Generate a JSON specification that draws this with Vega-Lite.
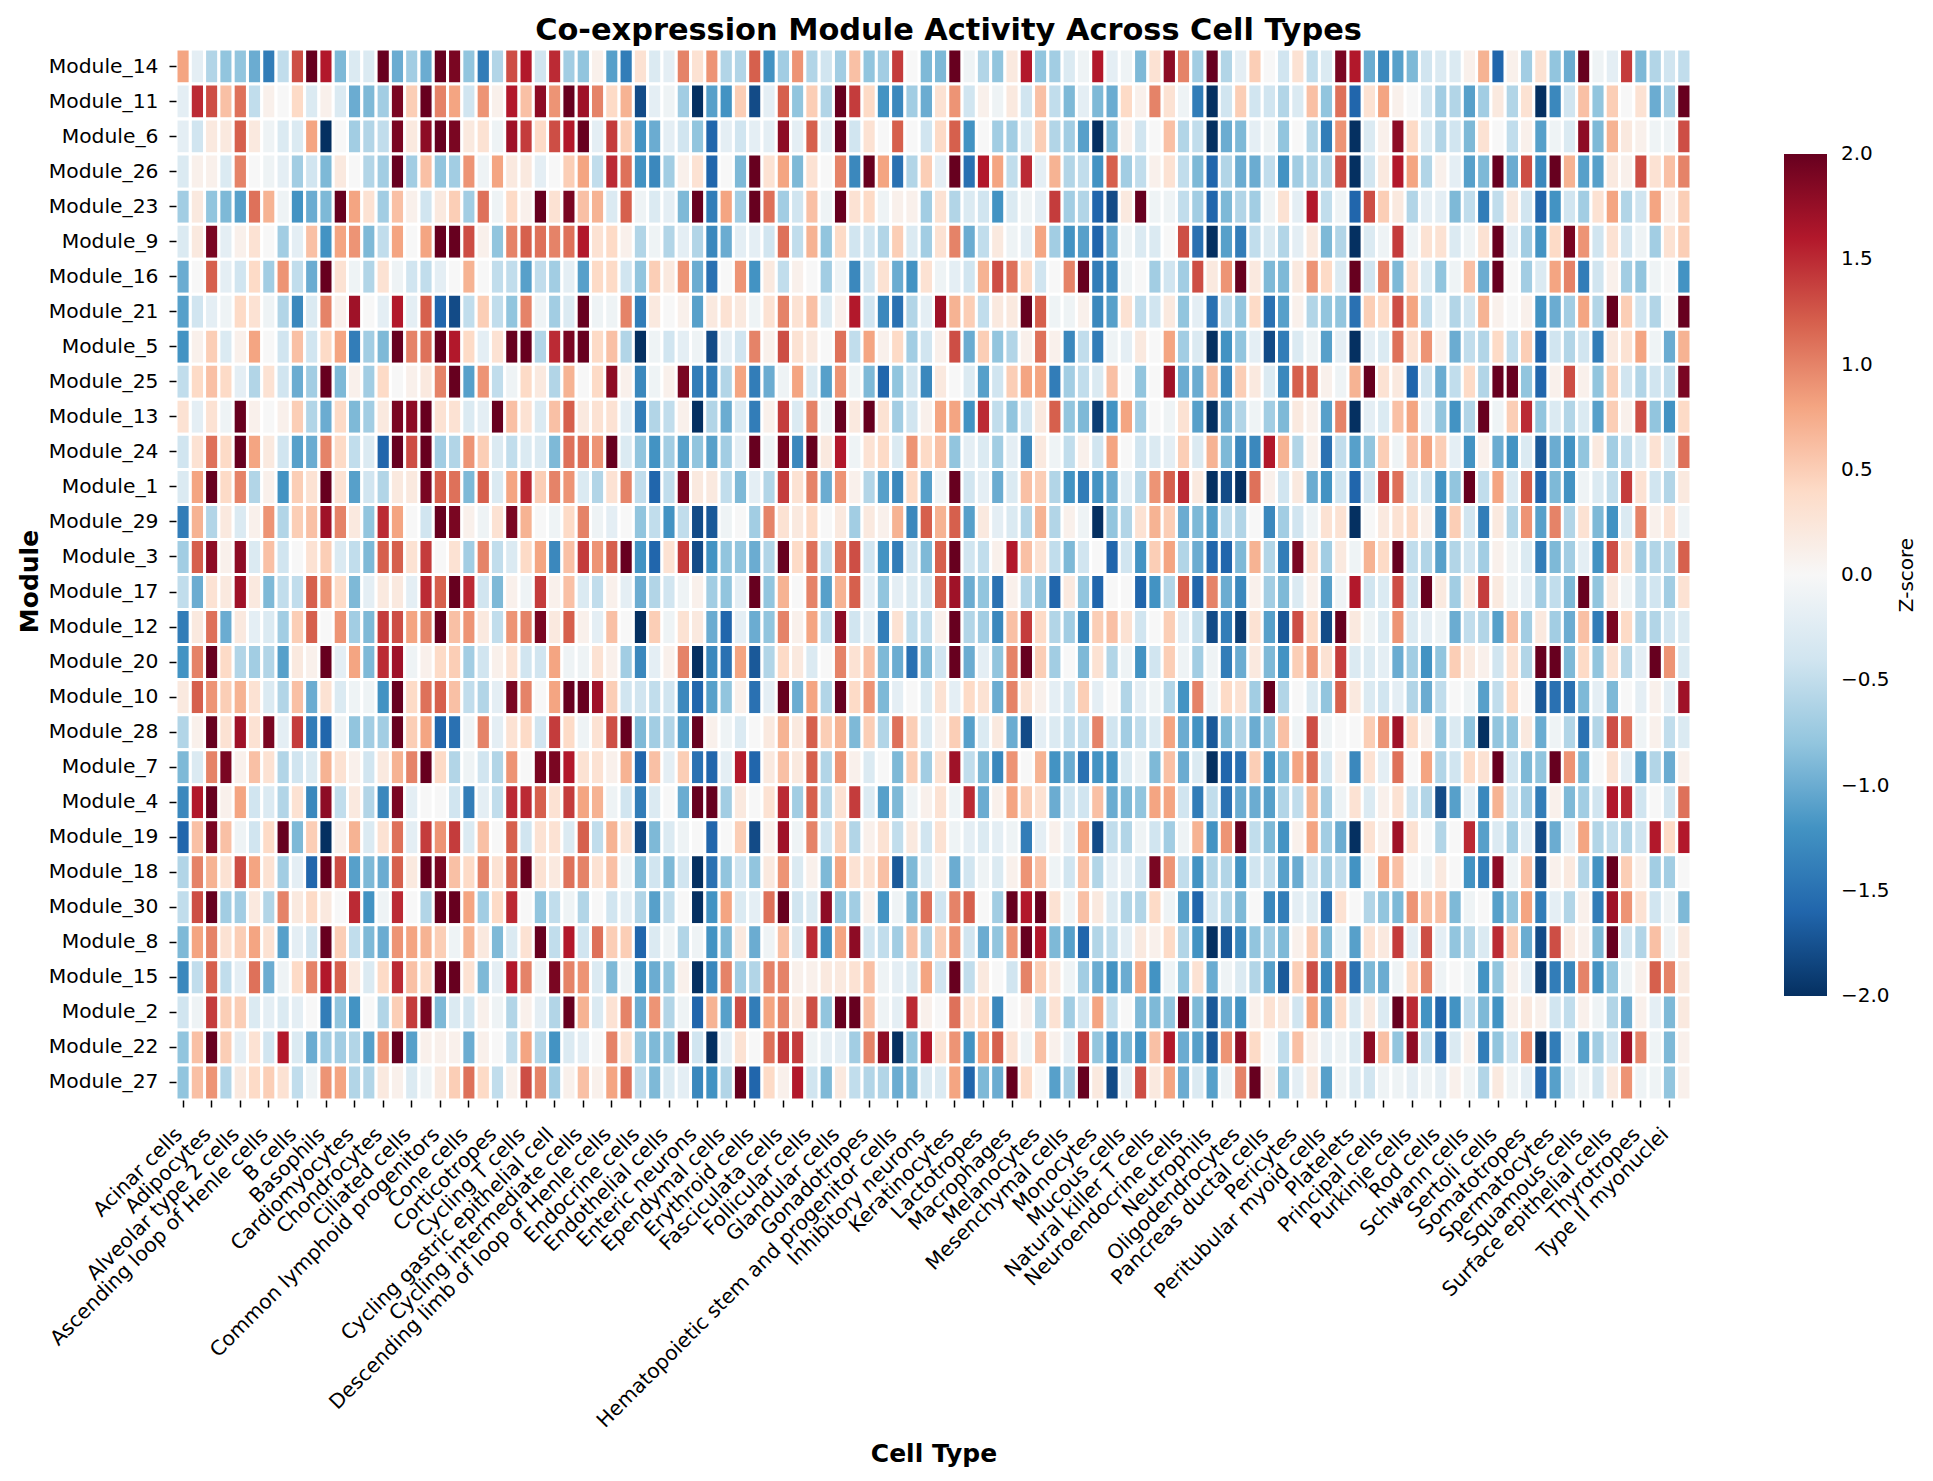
{"$schema":"https://vega.github.io/schema/vega-lite/v6.json","autosize":{"type":"none"},"padding":{"left":176,"top":49,"right":242,"bottom":381},"width":1515,"height":1051,"background":"white","title":{"text":"Co-expression Module Activity Across Cell Types","fontSize":30.4,"fontWeight":"bold","font":"DejaVu Sans","color":"black","offset":1,"dx":15,"anchor":"middle"},"config":{"font":"DejaVu Sans","view":{"stroke":null}},"data":{"values":[
{"m":14,"c":0,"z":0.8},{"m":14,"c":1,"z":-0.2},{"m":14,"c":2,"z":-0.6},{"m":14,"c":3,"z":-0.8},{"m":14,"c":4,"z":-0.8},{"m":14,"c":5,"z":-1},{"m":14,"c":6,"z":-1.4},{"m":14,"c":7,"z":-0.5},{"m":14,"c":8,"z":1.3},{"m":14,"c":9,"z":2},{"m":14,"c":10,"z":1.6},{"m":14,"c":11,"z":-0.9},{"m":14,"c":12,"z":-0.3},{"m":14,"c":13,"z":-0.3},{"m":14,"c":14,"z":2},{"m":14,"c":15,"z":-1},{"m":14,"c":16,"z":-0.7},{"m":14,"c":17,"z":-1},{"m":14,"c":18,"z":2},{"m":14,"c":19,"z":1.9},{"m":14,"c":20,"z":-0.8},{"m":14,"c":21,"z":-1.4},{"m":14,"c":22,"z":-0.6},{"m":14,"c":23,"z":1.3},{"m":14,"c":24,"z":1.6},{"m":14,"c":25,"z":-0.4},{"m":14,"c":26,"z":1.5},{"m":14,"c":27,"z":-0.7},{"m":14,"c":28,"z":-0.8},{"m":14,"c":29,"z":0.1},{"m":14,"c":30,"z":-1.1},{"m":14,"c":31,"z":-1.4},{"m":14,"c":32,"z":0.3},{"m":14,"c":33,"z":-0.3},{"m":14,"c":34,"z":-0.2},{"m":14,"c":35,"z":1},{"m":14,"c":36,"z":0.3},{"m":14,"c":37,"z":0.9},{"m":14,"c":38,"z":-0.6},{"m":14,"c":39,"z":-0.6},{"m":14,"c":40,"z":1.2},{"m":14,"c":41,"z":-1.2},{"m":14,"c":42,"z":-0.7},{"m":14,"c":43,"z":0.9},{"m":14,"c":44,"z":-0.6},{"m":14,"c":45,"z":-0.4},{"m":14,"c":46,"z":-0.7},{"m":14,"c":47,"z":0.6},{"m":14,"c":48,"z":-0.8},{"m":14,"c":49,"z":-0.7},{"m":14,"c":50,"z":1.4},{"m":14,"c":51,"z":0},{"m":14,"c":52,"z":-0.9},{"m":14,"c":53,"z":-0.9},{"m":14,"c":54,"z":2},{"m":14,"c":55,"z":-0.1},{"m":14,"c":56,"z":-0.6},{"m":14,"c":57,"z":-0.8},{"m":14,"c":58,"z":0.2},{"m":14,"c":59,"z":1.6},{"m":14,"c":60,"z":-0.8},{"m":14,"c":61,"z":-0.7},{"m":14,"c":62,"z":-0.3},{"m":14,"c":63,"z":-0.1},{"m":14,"c":64,"z":1.6},{"m":14,"c":65,"z":-0.2},{"m":14,"c":66,"z":-0.1},{"m":14,"c":67,"z":-0.9},{"m":14,"c":68,"z":0.3},{"m":14,"c":69,"z":1.8},{"m":14,"c":70,"z":1},{"m":14,"c":71,"z":-0.7},{"m":14,"c":72,"z":2},{"m":14,"c":73,"z":-0.6},{"m":14,"c":74,"z":-0.2},{"m":14,"c":75,"z":0.5},{"m":14,"c":76,"z":0},{"m":14,"c":77,"z":-0.4},{"m":14,"c":78,"z":0.3},{"m":14,"c":79,"z":-0.5},{"m":14,"c":80,"z":-0.3},{"m":14,"c":81,"z":1.9},{"m":14,"c":82,"z":1.6},{"m":14,"c":83,"z":-1},{"m":14,"c":84,"z":-1.3},{"m":14,"c":85,"z":-1.1},{"m":14,"c":86,"z":-0.9},{"m":14,"c":87,"z":-0.4},{"m":14,"c":88,"z":-0.3},{"m":14,"c":89,"z":-0.3},{"m":14,"c":90,"z":0.1},{"m":14,"c":91,"z":0.7},{"m":14,"c":92,"z":-1.6},{"m":14,"c":93,"z":0.1},{"m":14,"c":94,"z":-0.7},{"m":14,"c":95,"z":0.3},{"m":14,"c":96,"z":-0.8},{"m":14,"c":97,"z":-1},{"m":14,"c":98,"z":2},{"m":14,"c":99,"z":-0.1},{"m":14,"c":100,"z":-0.2},{"m":14,"c":101,"z":1.4},{"m":14,"c":102,"z":-0.9},{"m":14,"c":103,"z":-0.6},{"m":14,"c":104,"z":-0.4},{"m":14,"c":105,"z":-0.5},
{"m":11,"c":0,"z":-0.2},{"m":11,"c":1,"z":1.5},{"m":11,"c":2,"z":1.3},{"m":11,"c":3,"z":0.6},{"m":11,"c":4,"z":1.1},{"m":11,"c":5,"z":-0.5},{"m":11,"c":6,"z":0.1},{"m":11,"c":7,"z":0},{"m":11,"c":8,"z":0.4},{"m":11,"c":9,"z":-0.3},{"m":11,"c":10,"z":0.1},{"m":11,"c":11,"z":-0.3},{"m":11,"c":12,"z":-1},{"m":11,"c":13,"z":-0.9},{"m":11,"c":14,"z":-0.7},{"m":11,"c":15,"z":1.9},{"m":11,"c":16,"z":0.5},{"m":11,"c":17,"z":2},{"m":11,"c":18,"z":1},{"m":11,"c":19,"z":0.8},{"m":11,"c":20,"z":-0.4},{"m":11,"c":21,"z":0.9},{"m":11,"c":22,"z":0.1},{"m":11,"c":23,"z":1.6},{"m":11,"c":24,"z":0.6},{"m":11,"c":25,"z":1.8},{"m":11,"c":26,"z":0.9},{"m":11,"c":27,"z":2},{"m":11,"c":28,"z":1.7},{"m":11,"c":29,"z":1},{"m":11,"c":30,"z":0.4},{"m":11,"c":31,"z":0.7},{"m":11,"c":32,"z":-1.8},{"m":11,"c":33,"z":-0.2},{"m":11,"c":34,"z":-0.1},{"m":11,"c":35,"z":-0.7},{"m":11,"c":36,"z":-2},{"m":11,"c":37,"z":-1.1},{"m":11,"c":38,"z":-1.2},{"m":11,"c":39,"z":0.5},{"m":11,"c":40,"z":-1.8},{"m":11,"c":41,"z":-0.2},{"m":11,"c":42,"z":1.2},{"m":11,"c":43,"z":-0.8},{"m":11,"c":44,"z":0.5},{"m":11,"c":45,"z":-0.6},{"m":11,"c":46,"z":2},{"m":11,"c":47,"z":1.4},{"m":11,"c":48,"z":0.4},{"m":11,"c":49,"z":-1.2},{"m":11,"c":50,"z":-1.3},{"m":11,"c":51,"z":-0.7},{"m":11,"c":52,"z":-1},{"m":11,"c":53,"z":0.3},{"m":11,"c":54,"z":0.9},{"m":11,"c":55,"z":-0.4},{"m":11,"c":56,"z":0.1},{"m":11,"c":57,"z":-0.1},{"m":11,"c":58,"z":0.2},{"m":11,"c":59,"z":-0.4},{"m":11,"c":60,"z":0.6},{"m":11,"c":61,"z":-0.5},{"m":11,"c":62,"z":-0.9},{"m":11,"c":63,"z":-0.2},{"m":11,"c":64,"z":-0.9},{"m":11,"c":65,"z":-1},{"m":11,"c":66,"z":0.4},{"m":11,"c":67,"z":0.1},{"m":11,"c":68,"z":1},{"m":11,"c":69,"z":0.3},{"m":11,"c":70,"z":-0.1},{"m":11,"c":71,"z":-1.4},{"m":11,"c":72,"z":-2},{"m":11,"c":73,"z":-0.4},{"m":11,"c":74,"z":0.5},{"m":11,"c":75,"z":-0.4},{"m":11,"c":76,"z":-0.4},{"m":11,"c":77,"z":-0.6},{"m":11,"c":78,"z":-0.3},{"m":11,"c":79,"z":0.6},{"m":11,"c":80,"z":-0.8},{"m":11,"c":81,"z":1.1},{"m":11,"c":82,"z":-1.6},{"m":11,"c":83,"z":0.3},{"m":11,"c":84,"z":0.8},{"m":11,"c":85,"z":0.1},{"m":11,"c":86,"z":0},{"m":11,"c":87,"z":-0.4},{"m":11,"c":88,"z":-0.7},{"m":11,"c":89,"z":-0.6},{"m":11,"c":90,"z":-1.1},{"m":11,"c":91,"z":-0.7},{"m":11,"c":92,"z":0.2},{"m":11,"c":93,"z":-0.6},{"m":11,"c":94,"z":0.3},{"m":11,"c":95,"z":-2},{"m":11,"c":96,"z":-1.3},{"m":11,"c":97,"z":-0.4},{"m":11,"c":98,"z":0.6},{"m":11,"c":99,"z":-0.8},{"m":11,"c":100,"z":0.5},{"m":11,"c":101,"z":0},{"m":11,"c":102,"z":0.3},{"m":11,"c":103,"z":-1},{"m":11,"c":104,"z":-0.7},{"m":11,"c":105,"z":2},
{"m":6,"c":0,"z":-0.2},{"m":6,"c":1,"z":-0.4},{"m":6,"c":2,"z":0.2},{"m":6,"c":3,"z":0.2},{"m":6,"c":4,"z":1.2},{"m":6,"c":5,"z":0.2},{"m":6,"c":6,"z":-0.1},{"m":6,"c":7,"z":-0.3},{"m":6,"c":8,"z":-0.3},{"m":6,"c":9,"z":0.8},{"m":6,"c":10,"z":-2},{"m":6,"c":11,"z":0},{"m":6,"c":12,"z":-0.7},{"m":6,"c":13,"z":-0.6},{"m":6,"c":14,"z":-0.5},{"m":6,"c":15,"z":1.9},{"m":6,"c":16,"z":0.2},{"m":6,"c":17,"z":1.8},{"m":6,"c":18,"z":2},{"m":6,"c":19,"z":1.9},{"m":6,"c":20,"z":0.2},{"m":6,"c":21,"z":0.3},{"m":6,"c":22,"z":-0.1},{"m":6,"c":23,"z":1.7},{"m":6,"c":24,"z":1.4},{"m":6,"c":25,"z":0.4},{"m":6,"c":26,"z":1.3},{"m":6,"c":27,"z":1.6},{"m":6,"c":28,"z":2},{"m":6,"c":29,"z":-0.2},{"m":6,"c":30,"z":1.4},{"m":6,"c":31,"z":0.5},{"m":6,"c":32,"z":-1.2},{"m":6,"c":33,"z":-1},{"m":6,"c":34,"z":-0.2},{"m":6,"c":35,"z":-0.4},{"m":6,"c":36,"z":-0.8},{"m":6,"c":37,"z":-1.6},{"m":6,"c":38,"z":-0.2},{"m":6,"c":39,"z":-0.4},{"m":6,"c":40,"z":-0.2},{"m":6,"c":41,"z":-0.2},{"m":6,"c":42,"z":1.8},{"m":6,"c":43,"z":-0.2},{"m":6,"c":44,"z":1.2},{"m":6,"c":45,"z":-0.2},{"m":6,"c":46,"z":2},{"m":6,"c":47,"z":-0.4},{"m":6,"c":48,"z":0.3},{"m":6,"c":49,"z":0},{"m":6,"c":50,"z":1.2},{"m":6,"c":51,"z":0},{"m":6,"c":52,"z":-0.4},{"m":6,"c":53,"z":0.4},{"m":6,"c":54,"z":1.2},{"m":6,"c":55,"z":-1.2},{"m":6,"c":56,"z":0},{"m":6,"c":57,"z":-0.7},{"m":6,"c":58,"z":-0.7},{"m":6,"c":59,"z":-0.3},{"m":6,"c":60,"z":0.5},{"m":6,"c":61,"z":-0.6},{"m":6,"c":62,"z":-0.7},{"m":6,"c":63,"z":-1.1},{"m":6,"c":64,"z":-2},{"m":6,"c":65,"z":-0.9},{"m":6,"c":66,"z":0.1},{"m":6,"c":67,"z":-0.4},{"m":6,"c":68,"z":0},{"m":6,"c":69,"z":0.6},{"m":6,"c":70,"z":-0.6},{"m":6,"c":71,"z":-0.5},{"m":6,"c":72,"z":-2},{"m":6,"c":73,"z":-1},{"m":6,"c":74,"z":-0.9},{"m":6,"c":75,"z":-0.2},{"m":6,"c":76,"z":-0.1},{"m":6,"c":77,"z":-0.8},{"m":6,"c":78,"z":0},{"m":6,"c":79,"z":-0.6},{"m":6,"c":80,"z":-1.4},{"m":6,"c":81,"z":0.9},{"m":6,"c":82,"z":-2},{"m":6,"c":83,"z":-0.3},{"m":6,"c":84,"z":0.1},{"m":6,"c":85,"z":1.8},{"m":6,"c":86,"z":0.4},{"m":6,"c":87,"z":-0.3},{"m":6,"c":88,"z":-0.6},{"m":6,"c":89,"z":-0.4},{"m":6,"c":90,"z":-0.9},{"m":6,"c":91,"z":0.3},{"m":6,"c":92,"z":0},{"m":6,"c":93,"z":-0.5},{"m":6,"c":94,"z":0.1},{"m":6,"c":95,"z":-1.1},{"m":6,"c":96,"z":-0.1},{"m":6,"c":97,"z":-0.3},{"m":6,"c":98,"z":1.8},{"m":6,"c":99,"z":-0.9},{"m":6,"c":100,"z":0.7},{"m":6,"c":101,"z":0.2},{"m":6,"c":102,"z":0.1},{"m":6,"c":103,"z":-0.1},{"m":6,"c":104,"z":-0.1},{"m":6,"c":105,"z":1.3},
{"m":26,"c":0,"z":-0.3},{"m":26,"c":1,"z":0.1},{"m":26,"c":2,"z":0.1},{"m":26,"c":3,"z":-0.3},{"m":26,"c":4,"z":1},{"m":26,"c":5,"z":0},{"m":26,"c":6,"z":-0.1},{"m":26,"c":7,"z":-0.2},{"m":26,"c":8,"z":-0.7},{"m":26,"c":9,"z":-0.4},{"m":26,"c":10,"z":-0.9},{"m":26,"c":11,"z":0.2},{"m":26,"c":12,"z":0},{"m":26,"c":13,"z":-0.6},{"m":26,"c":14,"z":-0.7},{"m":26,"c":15,"z":2},{"m":26,"c":16,"z":-0.7},{"m":26,"c":17,"z":0.6},{"m":26,"c":18,"z":-0.8},{"m":26,"c":19,"z":-0.7},{"m":26,"c":20,"z":0.9},{"m":26,"c":21,"z":-0.1},{"m":26,"c":22,"z":0.8},{"m":26,"c":23,"z":0.2},{"m":26,"c":24,"z":0.2},{"m":26,"c":25,"z":-0.2},{"m":26,"c":26,"z":0},{"m":26,"c":27,"z":0.5},{"m":26,"c":28,"z":0.8},{"m":26,"c":29,"z":-0.5},{"m":26,"c":30,"z":1.5},{"m":26,"c":31,"z":1.1},{"m":26,"c":32,"z":-1.2},{"m":26,"c":33,"z":-1.3},{"m":26,"c":34,"z":-0.7},{"m":26,"c":35,"z":0.1},{"m":26,"c":36,"z":0.3},{"m":26,"c":37,"z":-1.6},{"m":26,"c":38,"z":0},{"m":26,"c":39,"z":-0.9},{"m":26,"c":40,"z":2},{"m":26,"c":41,"z":0.3},{"m":26,"c":42,"z":0.8},{"m":26,"c":43,"z":-0.9},{"m":26,"c":44,"z":0.3},{"m":26,"c":45,"z":0},{"m":26,"c":46,"z":1},{"m":26,"c":47,"z":-1.3},{"m":26,"c":48,"z":2},{"m":26,"c":49,"z":0.8},{"m":26,"c":50,"z":-1.5},{"m":26,"c":51,"z":-0.6},{"m":26,"c":52,"z":0.5},{"m":26,"c":53,"z":-0.2},{"m":26,"c":54,"z":2},{"m":26,"c":55,"z":-1.5},{"m":26,"c":56,"z":1.6},{"m":26,"c":57,"z":0.8},{"m":26,"c":58,"z":-0.5},{"m":26,"c":59,"z":1.5},{"m":26,"c":60,"z":-0.2},{"m":26,"c":61,"z":0.7},{"m":26,"c":62,"z":-0.6},{"m":26,"c":63,"z":-0.5},{"m":26,"c":64,"z":-1.2},{"m":26,"c":65,"z":1.2},{"m":26,"c":66,"z":-0.7},{"m":26,"c":67,"z":-0.5},{"m":26,"c":68,"z":0.1},{"m":26,"c":69,"z":0.3},{"m":26,"c":70,"z":-0.5},{"m":26,"c":71,"z":-0.9},{"m":26,"c":72,"z":-1.6},{"m":26,"c":73,"z":-0.6},{"m":26,"c":74,"z":-1},{"m":26,"c":75,"z":-1},{"m":26,"c":76,"z":-0.5},{"m":26,"c":77,"z":-1.2},{"m":26,"c":78,"z":-0.7},{"m":26,"c":79,"z":-0.6},{"m":26,"c":80,"z":-0.6},{"m":26,"c":81,"z":1.3},{"m":26,"c":82,"z":-2},{"m":26,"c":83,"z":-0.4},{"m":26,"c":84,"z":0.2},{"m":26,"c":85,"z":1.6},{"m":26,"c":86,"z":0.8},{"m":26,"c":87,"z":-0.6},{"m":26,"c":88,"z":0.1},{"m":26,"c":89,"z":-0.2},{"m":26,"c":90,"z":-1.1},{"m":26,"c":91,"z":-0.9},{"m":26,"c":92,"z":2},{"m":26,"c":93,"z":-1},{"m":26,"c":94,"z":1.3},{"m":26,"c":95,"z":-1.3},{"m":26,"c":96,"z":2},{"m":26,"c":97,"z":0.7},{"m":26,"c":98,"z":-1.1},{"m":26,"c":99,"z":-1.1},{"m":26,"c":100,"z":0.2},{"m":26,"c":101,"z":0.1},{"m":26,"c":102,"z":1.3},{"m":26,"c":103,"z":0.3},{"m":26,"c":104,"z":0.6},{"m":26,"c":105,"z":1},
{"m":23,"c":0,"z":-0.7},{"m":23,"c":1,"z":0.2},{"m":23,"c":2,"z":-0.8},{"m":23,"c":3,"z":-0.9},{"m":23,"c":4,"z":-1.1},{"m":23,"c":5,"z":1.1},{"m":23,"c":6,"z":0.7},{"m":23,"c":7,"z":-0.1},{"m":23,"c":8,"z":-1.2},{"m":23,"c":9,"z":-1},{"m":23,"c":10,"z":-0.9},{"m":23,"c":11,"z":2},{"m":23,"c":12,"z":0.8},{"m":23,"c":13,"z":0.3},{"m":23,"c":14,"z":-0.7},{"m":23,"c":15,"z":0.6},{"m":23,"c":16,"z":0.1},{"m":23,"c":17,"z":-0.4},{"m":23,"c":18,"z":0.2},{"m":23,"c":19,"z":0.5},{"m":23,"c":20,"z":-0.7},{"m":23,"c":21,"z":1.1},{"m":23,"c":22,"z":-0.1},{"m":23,"c":23,"z":0.4},{"m":23,"c":24,"z":0.1},{"m":23,"c":25,"z":2},{"m":23,"c":26,"z":0.3},{"m":23,"c":27,"z":1.9},{"m":23,"c":28,"z":0.6},{"m":23,"c":29,"z":0.7},{"m":23,"c":30,"z":-0.3},{"m":23,"c":31,"z":1.2},{"m":23,"c":32,"z":-0.1},{"m":23,"c":33,"z":-0.3},{"m":23,"c":34,"z":-0.2},{"m":23,"c":35,"z":-0.9},{"m":23,"c":36,"z":2},{"m":23,"c":37,"z":-1.4},{"m":23,"c":38,"z":0.8},{"m":23,"c":39,"z":-0.7},{"m":23,"c":40,"z":2},{"m":23,"c":41,"z":1.1},{"m":23,"c":42,"z":-0.7},{"m":23,"c":43,"z":-0.4},{"m":23,"c":44,"z":0.6},{"m":23,"c":45,"z":-0.1},{"m":23,"c":46,"z":2},{"m":23,"c":47,"z":0.3},{"m":23,"c":48,"z":0.4},{"m":23,"c":49,"z":-0.1},{"m":23,"c":50,"z":0.1},{"m":23,"c":51,"z":0.1},{"m":23,"c":52,"z":-0.7},{"m":23,"c":53,"z":0.3},{"m":23,"c":54,"z":-0.6},{"m":23,"c":55,"z":-0.3},{"m":23,"c":56,"z":-0.4},{"m":23,"c":57,"z":-1.2},{"m":23,"c":58,"z":-0.3},{"m":23,"c":59,"z":-0.1},{"m":23,"c":60,"z":-0.2},{"m":23,"c":61,"z":1.4},{"m":23,"c":62,"z":-0.7},{"m":23,"c":63,"z":-0.6},{"m":23,"c":64,"z":-1.6},{"m":23,"c":65,"z":-1.8},{"m":23,"c":66,"z":0.2},{"m":23,"c":67,"z":2},{"m":23,"c":68,"z":-0.1},{"m":23,"c":69,"z":-0.1},{"m":23,"c":70,"z":-0.5},{"m":23,"c":71,"z":-0.7},{"m":23,"c":72,"z":-1.6},{"m":23,"c":73,"z":-0.9},{"m":23,"c":74,"z":-0.6},{"m":23,"c":75,"z":-0.7},{"m":23,"c":76,"z":-0.1},{"m":23,"c":77,"z":0.3},{"m":23,"c":78,"z":-0.2},{"m":23,"c":79,"z":1.6},{"m":23,"c":80,"z":-0.5},{"m":23,"c":81,"z":-0.1},{"m":23,"c":82,"z":-1.6},{"m":23,"c":83,"z":1.3},{"m":23,"c":84,"z":0.5},{"m":23,"c":85,"z":0.2},{"m":23,"c":86,"z":-0.6},{"m":23,"c":87,"z":-0.2},{"m":23,"c":88,"z":-0.2},{"m":23,"c":89,"z":-0.9},{"m":23,"c":90,"z":-0.5},{"m":23,"c":91,"z":-1.4},{"m":23,"c":92,"z":-0.5},{"m":23,"c":93,"z":0.2},{"m":23,"c":94,"z":-0.4},{"m":23,"c":95,"z":-1.6},{"m":23,"c":96,"z":-1.2},{"m":23,"c":97,"z":-0.4},{"m":23,"c":98,"z":-0.7},{"m":23,"c":99,"z":0.3},{"m":23,"c":100,"z":0.8},{"m":23,"c":101,"z":-0.6},{"m":23,"c":102,"z":-0.4},{"m":23,"c":103,"z":0.8},{"m":23,"c":104,"z":0.1},{"m":23,"c":105,"z":0.5},
{"m":9,"c":0,"z":-0.3},{"m":9,"c":1,"z":0.2},{"m":9,"c":2,"z":1.9},{"m":9,"c":3,"z":-0.2},{"m":9,"c":4,"z":0.1},{"m":9,"c":5,"z":0.3},{"m":9,"c":6,"z":0},{"m":9,"c":7,"z":-0.7},{"m":9,"c":8,"z":-0.2},{"m":9,"c":9,"z":0.6},{"m":9,"c":10,"z":-1.2},{"m":9,"c":11,"z":0.8},{"m":9,"c":12,"z":0.9},{"m":9,"c":13,"z":-0.9},{"m":9,"c":14,"z":-0.5},{"m":9,"c":15,"z":0.8},{"m":9,"c":16,"z":0},{"m":9,"c":17,"z":0.8},{"m":9,"c":18,"z":2},{"m":9,"c":19,"z":2},{"m":9,"c":20,"z":1.3},{"m":9,"c":21,"z":0.1},{"m":9,"c":22,"z":-0.8},{"m":9,"c":23,"z":1},{"m":9,"c":24,"z":1.2},{"m":9,"c":25,"z":1.1},{"m":9,"c":26,"z":1},{"m":9,"c":27,"z":1.1},{"m":9,"c":28,"z":1.6},{"m":9,"c":29,"z":0.3},{"m":9,"c":30,"z":0.4},{"m":9,"c":31,"z":0.1},{"m":9,"c":32,"z":-0.6},{"m":9,"c":33,"z":-0.1},{"m":9,"c":34,"z":-0.6},{"m":9,"c":35,"z":-0.2},{"m":9,"c":36,"z":-0.6},{"m":9,"c":37,"z":-1.3},{"m":9,"c":38,"z":-1},{"m":9,"c":39,"z":-0.2},{"m":9,"c":40,"z":-0.2},{"m":9,"c":41,"z":-0.4},{"m":9,"c":42,"z":1.1},{"m":9,"c":43,"z":-0.5},{"m":9,"c":44,"z":0.7},{"m":9,"c":45,"z":-0.8},{"m":9,"c":46,"z":0.4},{"m":9,"c":47,"z":-0.4},{"m":9,"c":48,"z":-0.4},{"m":9,"c":49,"z":-0.6},{"m":9,"c":50,"z":0.5},{"m":9,"c":51,"z":-0.3},{"m":9,"c":52,"z":-0.7},{"m":9,"c":53,"z":0.3},{"m":9,"c":54,"z":1},{"m":9,"c":55,"z":-1},{"m":9,"c":56,"z":-0.5},{"m":9,"c":57,"z":0.2},{"m":9,"c":58,"z":-0.1},{"m":9,"c":59,"z":-0.2},{"m":9,"c":60,"z":0.8},{"m":9,"c":61,"z":-0.7},{"m":9,"c":62,"z":-1.2},{"m":9,"c":63,"z":-1.1},{"m":9,"c":64,"z":-1.6},{"m":9,"c":65,"z":-1},{"m":9,"c":66,"z":-0.1},{"m":9,"c":67,"z":-0.3},{"m":9,"c":68,"z":-0.3},{"m":9,"c":69,"z":0},{"m":9,"c":70,"z":1.3},{"m":9,"c":71,"z":-1.5},{"m":9,"c":72,"z":-2},{"m":9,"c":73,"z":-1.1},{"m":9,"c":74,"z":-1.4},{"m":9,"c":75,"z":-0.5},{"m":9,"c":76,"z":-0.3},{"m":9,"c":77,"z":-0.6},{"m":9,"c":78,"z":-0.2},{"m":9,"c":79,"z":0.2},{"m":9,"c":80,"z":-0.9},{"m":9,"c":81,"z":-0.6},{"m":9,"c":82,"z":-2},{"m":9,"c":83,"z":-0.3},{"m":9,"c":84,"z":-0.1},{"m":9,"c":85,"z":1.4},{"m":9,"c":86,"z":-0.1},{"m":9,"c":87,"z":0.3},{"m":9,"c":88,"z":0.3},{"m":9,"c":89,"z":-0.3},{"m":9,"c":90,"z":-0.1},{"m":9,"c":91,"z":0.3},{"m":9,"c":92,"z":2},{"m":9,"c":93,"z":-0.2},{"m":9,"c":94,"z":-0.7},{"m":9,"c":95,"z":-1.2},{"m":9,"c":96,"z":0.4},{"m":9,"c":97,"z":1.9},{"m":9,"c":98,"z":0.9},{"m":9,"c":99,"z":-0.4},{"m":9,"c":100,"z":0.3},{"m":9,"c":101,"z":-0.4},{"m":9,"c":102,"z":-0.1},{"m":9,"c":103,"z":-0.7},{"m":9,"c":104,"z":0.3},{"m":9,"c":105,"z":0.5},
{"m":16,"c":0,"z":-1},{"m":16,"c":1,"z":0},{"m":16,"c":2,"z":1.2},{"m":16,"c":3,"z":-0.2},{"m":16,"c":4,"z":-0.4},{"m":16,"c":5,"z":0.4},{"m":16,"c":6,"z":-0.7},{"m":16,"c":7,"z":0.9},{"m":16,"c":8,"z":-0.5},{"m":16,"c":9,"z":-1},{"m":16,"c":10,"z":2},{"m":16,"c":11,"z":0.3},{"m":16,"c":12,"z":-0.1},{"m":16,"c":13,"z":-0.6},{"m":16,"c":14,"z":0.3},{"m":16,"c":15,"z":-0.1},{"m":16,"c":16,"z":-0.4},{"m":16,"c":17,"z":-0.5},{"m":16,"c":18,"z":-0.2},{"m":16,"c":19,"z":0},{"m":16,"c":20,"z":0.7},{"m":16,"c":21,"z":0},{"m":16,"c":22,"z":-0.5},{"m":16,"c":23,"z":-0.5},{"m":16,"c":24,"z":-1.1},{"m":16,"c":25,"z":-0.5},{"m":16,"c":26,"z":-0.7},{"m":16,"c":27,"z":-0.2},{"m":16,"c":28,"z":-1.1},{"m":16,"c":29,"z":0.4},{"m":16,"c":30,"z":0.4},{"m":16,"c":31,"z":-0.4},{"m":16,"c":32,"z":-0.8},{"m":16,"c":33,"z":0.5},{"m":16,"c":34,"z":0.2},{"m":16,"c":35,"z":0.9},{"m":16,"c":36,"z":-1},{"m":16,"c":37,"z":-1.5},{"m":16,"c":38,"z":0},{"m":16,"c":39,"z":0.9},{"m":16,"c":40,"z":-1.2},{"m":16,"c":41,"z":0.2},{"m":16,"c":42,"z":-0.5},{"m":16,"c":43,"z":0.1},{"m":16,"c":44,"z":0},{"m":16,"c":45,"z":-0.7},{"m":16,"c":46,"z":-0.1},{"m":16,"c":47,"z":-1.3},{"m":16,"c":48,"z":-0.4},{"m":16,"c":49,"z":0.3},{"m":16,"c":50,"z":-1},{"m":16,"c":51,"z":-1.2},{"m":16,"c":52,"z":0.3},{"m":16,"c":53,"z":-0.1},{"m":16,"c":54,"z":-0.2},{"m":16,"c":55,"z":-0.4},{"m":16,"c":56,"z":0.7},{"m":16,"c":57,"z":1.3},{"m":16,"c":58,"z":1.1},{"m":16,"c":59,"z":0.4},{"m":16,"c":60,"z":-0.4},{"m":16,"c":61,"z":0},{"m":16,"c":62,"z":1},{"m":16,"c":63,"z":2},{"m":16,"c":64,"z":-1.4},{"m":16,"c":65,"z":-1.3},{"m":16,"c":66,"z":-0.1},{"m":16,"c":67,"z":0},{"m":16,"c":68,"z":-0.7},{"m":16,"c":69,"z":-0.4},{"m":16,"c":70,"z":-0.7},{"m":16,"c":71,"z":1.3},{"m":16,"c":72,"z":0.2},{"m":16,"c":73,"z":0.9},{"m":16,"c":74,"z":2},{"m":16,"c":75,"z":0.2},{"m":16,"c":76,"z":-0.9},{"m":16,"c":77,"z":-0.9},{"m":16,"c":78,"z":0.2},{"m":16,"c":79,"z":0.9},{"m":16,"c":80,"z":0.4},{"m":16,"c":81,"z":-0.3},{"m":16,"c":82,"z":2},{"m":16,"c":83,"z":-0.4},{"m":16,"c":84,"z":1},{"m":16,"c":85,"z":-0.9},{"m":16,"c":86,"z":0.3},{"m":16,"c":87,"z":-0.3},{"m":16,"c":88,"z":-0.8},{"m":16,"c":89,"z":-0.1},{"m":16,"c":90,"z":0.6},{"m":16,"c":91,"z":-1},{"m":16,"c":92,"z":2},{"m":16,"c":93,"z":0},{"m":16,"c":94,"z":-0.7},{"m":16,"c":95,"z":-0.3},{"m":16,"c":96,"z":0.8},{"m":16,"c":97,"z":1},{"m":16,"c":98,"z":-1.4},{"m":16,"c":99,"z":-0.4},{"m":16,"c":100,"z":0.1},{"m":16,"c":101,"z":-0.7},{"m":16,"c":102,"z":-0.8},{"m":16,"c":103,"z":-0.1},{"m":16,"c":104,"z":0},{"m":16,"c":105,"z":-1.2},
{"m":21,"c":0,"z":-1.1},{"m":21,"c":1,"z":-0.4},{"m":21,"c":2,"z":-0.2},{"m":21,"c":3,"z":-0.1},{"m":21,"c":4,"z":0.4},{"m":21,"c":5,"z":0.3},{"m":21,"c":6,"z":-0.1},{"m":21,"c":7,"z":-0.6},{"m":21,"c":8,"z":-1.3},{"m":21,"c":9,"z":-0.3},{"m":21,"c":10,"z":1},{"m":21,"c":11,"z":0.1},{"m":21,"c":12,"z":1.7},{"m":21,"c":13,"z":0},{"m":21,"c":14,"z":-0.2},{"m":21,"c":15,"z":1.6},{"m":21,"c":16,"z":-0.2},{"m":21,"c":17,"z":1.2},{"m":21,"c":18,"z":-1.6},{"m":21,"c":19,"z":-1.8},{"m":21,"c":20,"z":-0.5},{"m":21,"c":21,"z":0.5},{"m":21,"c":22,"z":-0.5},{"m":21,"c":23,"z":-0.8},{"m":21,"c":24,"z":1},{"m":21,"c":25,"z":-0.1},{"m":21,"c":26,"z":-0.7},{"m":21,"c":27,"z":-0.3},{"m":21,"c":28,"z":2},{"m":21,"c":29,"z":-0.1},{"m":21,"c":30,"z":-0.1},{"m":21,"c":31,"z":1},{"m":21,"c":32,"z":-1.4},{"m":21,"c":33,"z":0.2},{"m":21,"c":34,"z":0},{"m":21,"c":35,"z":0.1},{"m":21,"c":36,"z":-1.1},{"m":21,"c":37,"z":0.2},{"m":21,"c":38,"z":0.3},{"m":21,"c":39,"z":0.2},{"m":21,"c":40,"z":-0.1},{"m":21,"c":41,"z":0.3},{"m":21,"c":42,"z":1},{"m":21,"c":43,"z":0.3},{"m":21,"c":44,"z":0.6},{"m":21,"c":45,"z":-0.3},{"m":21,"c":46,"z":0.1},{"m":21,"c":47,"z":1.6},{"m":21,"c":48,"z":-0.4},{"m":21,"c":49,"z":-1.3},{"m":21,"c":50,"z":-1.5},{"m":21,"c":51,"z":-0.6},{"m":21,"c":52,"z":-0.2},{"m":21,"c":53,"z":1.7},{"m":21,"c":54,"z":0.7},{"m":21,"c":55,"z":0.5},{"m":21,"c":56,"z":-0.5},{"m":21,"c":57,"z":0.2},{"m":21,"c":58,"z":0.2},{"m":21,"c":59,"z":2},{"m":21,"c":60,"z":1.2},{"m":21,"c":61,"z":-0.1},{"m":21,"c":62,"z":-0.1},{"m":21,"c":63,"z":0.1},{"m":21,"c":64,"z":-1.3},{"m":21,"c":65,"z":-1.1},{"m":21,"c":66,"z":0.3},{"m":21,"c":67,"z":-0.5},{"m":21,"c":68,"z":-0.4},{"m":21,"c":69,"z":0.2},{"m":21,"c":70,"z":-0.8},{"m":21,"c":71,"z":-0.2},{"m":21,"c":72,"z":-1.5},{"m":21,"c":73,"z":-0.5},{"m":21,"c":74,"z":-0.8},{"m":21,"c":75,"z":0.4},{"m":21,"c":76,"z":-1.5},{"m":21,"c":77,"z":-1.1},{"m":21,"c":78,"z":0.1},{"m":21,"c":79,"z":-0.6},{"m":21,"c":80,"z":-0.8},{"m":21,"c":81,"z":-0.8},{"m":21,"c":82,"z":-1.5},{"m":21,"c":83,"z":0.5},{"m":21,"c":84,"z":0.4},{"m":21,"c":85,"z":1.3},{"m":21,"c":86,"z":0.8},{"m":21,"c":87,"z":-0.5},{"m":21,"c":88,"z":-0.1},{"m":21,"c":89,"z":-0.6},{"m":21,"c":90,"z":-0.4},{"m":21,"c":91,"z":0.7},{"m":21,"c":92,"z":0.1},{"m":21,"c":93,"z":0},{"m":21,"c":94,"z":0.1},{"m":21,"c":95,"z":-1.2},{"m":21,"c":96,"z":-1},{"m":21,"c":97,"z":-0.7},{"m":21,"c":98,"z":0.8},{"m":21,"c":99,"z":-0.6},{"m":21,"c":100,"z":2},{"m":21,"c":101,"z":0.5},{"m":21,"c":102,"z":-0.4},{"m":21,"c":103,"z":-0.6},{"m":21,"c":104,"z":0},{"m":21,"c":105,"z":2},
{"m":5,"c":0,"z":-1.2},{"m":5,"c":1,"z":0.1},{"m":5,"c":2,"z":0.5},{"m":5,"c":3,"z":-0.3},{"m":5,"c":4,"z":0.1},{"m":5,"c":5,"z":0.8},{"m":5,"c":6,"z":0},{"m":5,"c":7,"z":-0.4},{"m":5,"c":8,"z":0.6},{"m":5,"c":9,"z":-0.4},{"m":5,"c":10,"z":0.4},{"m":5,"c":11,"z":0.8},{"m":5,"c":12,"z":-1.4},{"m":5,"c":13,"z":-0.7},{"m":5,"c":14,"z":-0.9},{"m":5,"c":15,"z":2},{"m":5,"c":16,"z":1},{"m":5,"c":17,"z":1.1},{"m":5,"c":18,"z":2},{"m":5,"c":19,"z":1.6},{"m":5,"c":20,"z":0.4},{"m":5,"c":21,"z":-0.2},{"m":5,"c":22,"z":0.3},{"m":5,"c":23,"z":2},{"m":5,"c":24,"z":2},{"m":5,"c":25,"z":-0.6},{"m":5,"c":26,"z":1.5},{"m":5,"c":27,"z":1.9},{"m":5,"c":28,"z":2},{"m":5,"c":29,"z":0.4},{"m":5,"c":30,"z":0.6},{"m":5,"c":31,"z":-0.6},{"m":5,"c":32,"z":-2},{"m":5,"c":33,"z":-0.1},{"m":5,"c":34,"z":-0.4},{"m":5,"c":35,"z":-0.2},{"m":5,"c":36,"z":-0.1},{"m":5,"c":37,"z":-1.8},{"m":5,"c":38,"z":-0.2},{"m":5,"c":39,"z":-0.4},{"m":5,"c":40,"z":1},{"m":5,"c":41,"z":0.1},{"m":5,"c":42,"z":1.3},{"m":5,"c":43,"z":0.3},{"m":5,"c":44,"z":0.2},{"m":5,"c":45,"z":0},{"m":5,"c":46,"z":1.1},{"m":5,"c":47,"z":-0.5},{"m":5,"c":48,"z":0.8},{"m":5,"c":49,"z":0.1},{"m":5,"c":50,"z":0.4},{"m":5,"c":51,"z":-0.7},{"m":5,"c":52,"z":-0.4},{"m":5,"c":53,"z":0.1},{"m":5,"c":54,"z":1.3},{"m":5,"c":55,"z":-1},{"m":5,"c":56,"z":0.5},{"m":5,"c":57,"z":-0.8},{"m":5,"c":58,"z":-0.6},{"m":5,"c":59,"z":0.1},{"m":5,"c":60,"z":1.1},{"m":5,"c":61,"z":0.1},{"m":5,"c":62,"z":-1.3},{"m":5,"c":63,"z":-0.5},{"m":5,"c":64,"z":-1.4},{"m":5,"c":65,"z":-0.1},{"m":5,"c":66,"z":-0.2},{"m":5,"c":67,"z":0.2},{"m":5,"c":68,"z":0},{"m":5,"c":69,"z":0.8},{"m":5,"c":70,"z":-0.7},{"m":5,"c":71,"z":-0.3},{"m":5,"c":72,"z":-2},{"m":5,"c":73,"z":-1.2},{"m":5,"c":74,"z":-0.8},{"m":5,"c":75,"z":-0.2},{"m":5,"c":76,"z":-1.8},{"m":5,"c":77,"z":-1.4},{"m":5,"c":78,"z":-0.3},{"m":5,"c":79,"z":-0.1},{"m":5,"c":80,"z":-1.1},{"m":5,"c":81,"z":-0.2},{"m":5,"c":82,"z":-2},{"m":5,"c":83,"z":-0.2},{"m":5,"c":84,"z":-0.3},{"m":5,"c":85,"z":1.1},{"m":5,"c":86,"z":0.3},{"m":5,"c":87,"z":0.9},{"m":5,"c":88,"z":0.1},{"m":5,"c":89,"z":-1},{"m":5,"c":90,"z":-0.5},{"m":5,"c":91,"z":-0.6},{"m":5,"c":92,"z":0.4},{"m":5,"c":93,"z":-0.5},{"m":5,"c":94,"z":0.5},{"m":5,"c":95,"z":-1.6},{"m":5,"c":96,"z":-0.4},{"m":5,"c":97,"z":-0.6},{"m":5,"c":98,"z":-0.4},{"m":5,"c":99,"z":-1.4},{"m":5,"c":100,"z":0.2},{"m":5,"c":101,"z":0.3},{"m":5,"c":102,"z":0.8},{"m":5,"c":103,"z":-0.1},{"m":5,"c":104,"z":-1},{"m":5,"c":105,"z":0.7},
{"m":25,"c":0,"z":-0.5},{"m":25,"c":1,"z":0.4},{"m":25,"c":2,"z":0.6},{"m":25,"c":3,"z":0.4},{"m":25,"c":4,"z":-0.2},{"m":25,"c":5,"z":-0.6},{"m":25,"c":6,"z":0.3},{"m":25,"c":7,"z":-0.4},{"m":25,"c":8,"z":-1},{"m":25,"c":9,"z":-0.7},{"m":25,"c":10,"z":2},{"m":25,"c":11,"z":-0.9},{"m":25,"c":12,"z":0.1},{"m":25,"c":13,"z":-0.7},{"m":25,"c":14,"z":0.4},{"m":25,"c":15,"z":0},{"m":25,"c":16,"z":0.1},{"m":25,"c":17,"z":0.2},{"m":25,"c":18,"z":1},{"m":25,"c":19,"z":2},{"m":25,"c":20,"z":-1.1},{"m":25,"c":21,"z":0.9},{"m":25,"c":22,"z":-0.5},{"m":25,"c":23,"z":-0.1},{"m":25,"c":24,"z":0.4},{"m":25,"c":25,"z":0.2},{"m":25,"c":26,"z":-0.6},{"m":25,"c":27,"z":0.7},{"m":25,"c":28,"z":0},{"m":25,"c":29,"z":0.4},{"m":25,"c":30,"z":1.8},{"m":25,"c":31,"z":0.1},{"m":25,"c":32,"z":-1.3},{"m":25,"c":33,"z":-0.1},{"m":25,"c":34,"z":0.1},{"m":25,"c":35,"z":1.9},{"m":25,"c":36,"z":-1.4},{"m":25,"c":37,"z":-1.4},{"m":25,"c":38,"z":-0.6},{"m":25,"c":39,"z":0.8},{"m":25,"c":40,"z":-1.4},{"m":25,"c":41,"z":-1},{"m":25,"c":42,"z":-0.1},{"m":25,"c":43,"z":0.8},{"m":25,"c":44,"z":-0.3},{"m":25,"c":45,"z":-1.1},{"m":25,"c":46,"z":0.9},{"m":25,"c":47,"z":-0.1},{"m":25,"c":48,"z":-0.9},{"m":25,"c":49,"z":-1.6},{"m":25,"c":50,"z":-0.8},{"m":25,"c":51,"z":-0.4},{"m":25,"c":52,"z":-1.3},{"m":25,"c":53,"z":0.2},{"m":25,"c":54,"z":0},{"m":25,"c":55,"z":-0.3},{"m":25,"c":56,"z":-1.1},{"m":25,"c":57,"z":-0.4},{"m":25,"c":58,"z":0.5},{"m":25,"c":59,"z":0.8},{"m":25,"c":60,"z":0.8},{"m":25,"c":61,"z":-1.4},{"m":25,"c":62,"z":-0.7},{"m":25,"c":63,"z":-0.5},{"m":25,"c":64,"z":-0.3},{"m":25,"c":65,"z":0.6},{"m":25,"c":66,"z":0},{"m":25,"c":67,"z":-0.8},{"m":25,"c":68,"z":0},{"m":25,"c":69,"z":1.7},{"m":25,"c":70,"z":-1},{"m":25,"c":71,"z":-1},{"m":25,"c":72,"z":0.6},{"m":25,"c":73,"z":-1.3},{"m":25,"c":74,"z":0.5},{"m":25,"c":75,"z":0.2},{"m":25,"c":76,"z":-0.3},{"m":25,"c":77,"z":-1.3},{"m":25,"c":78,"z":1.2},{"m":25,"c":79,"z":1.2},{"m":25,"c":80,"z":0.1},{"m":25,"c":81,"z":-0.1},{"m":25,"c":82,"z":0.7},{"m":25,"c":83,"z":2},{"m":25,"c":84,"z":0.3},{"m":25,"c":85,"z":0.2},{"m":25,"c":86,"z":-1.6},{"m":25,"c":87,"z":-0.4},{"m":25,"c":88,"z":-1},{"m":25,"c":89,"z":-0.5},{"m":25,"c":90,"z":0.4},{"m":25,"c":91,"z":-0.6},{"m":25,"c":92,"z":2},{"m":25,"c":93,"z":2},{"m":25,"c":94,"z":-0.8},{"m":25,"c":95,"z":-1.6},{"m":25,"c":96,"z":0.1},{"m":25,"c":97,"z":1.3},{"m":25,"c":98,"z":0.1},{"m":25,"c":99,"z":-0.8},{"m":25,"c":100,"z":0.5},{"m":25,"c":101,"z":-0.4},{"m":25,"c":102,"z":-0.6},{"m":25,"c":103,"z":-0.4},{"m":25,"c":104,"z":-0.5},{"m":25,"c":105,"z":1.9},
{"m":13,"c":0,"z":0.3},{"m":13,"c":1,"z":-0.2},{"m":13,"c":2,"z":0.3},{"m":13,"c":3,"z":-0.1},{"m":13,"c":4,"z":2},{"m":13,"c":5,"z":0.1},{"m":13,"c":6,"z":0},{"m":13,"c":7,"z":0.1},{"m":13,"c":8,"z":0.5},{"m":13,"c":9,"z":-0.6},{"m":13,"c":10,"z":-1},{"m":13,"c":11,"z":0.4},{"m":13,"c":12,"z":-0.9},{"m":13,"c":13,"z":-0.7},{"m":13,"c":14,"z":0.2},{"m":13,"c":15,"z":1.9},{"m":13,"c":16,"z":1.8},{"m":13,"c":17,"z":2},{"m":13,"c":18,"z":0.3},{"m":13,"c":19,"z":0.3},{"m":13,"c":20,"z":-0.3},{"m":13,"c":21,"z":-0.2},{"m":13,"c":22,"z":2},{"m":13,"c":23,"z":0.6},{"m":13,"c":24,"z":0.3},{"m":13,"c":25,"z":-0.3},{"m":13,"c":26,"z":0.6},{"m":13,"c":27,"z":1.2},{"m":13,"c":28,"z":0.2},{"m":13,"c":29,"z":0.3},{"m":13,"c":30,"z":0.3},{"m":13,"c":31,"z":-0.2},{"m":13,"c":32,"z":-1.4},{"m":13,"c":33,"z":-0.6},{"m":13,"c":34,"z":-0.5},{"m":13,"c":35,"z":0.1},{"m":13,"c":36,"z":-2},{"m":13,"c":37,"z":-0.6},{"m":13,"c":38,"z":-1},{"m":13,"c":39,"z":-0.3},{"m":13,"c":40,"z":-1.4},{"m":13,"c":41,"z":0.1},{"m":13,"c":42,"z":1.4},{"m":13,"c":43,"z":-0.3},{"m":13,"c":44,"z":1},{"m":13,"c":45,"z":-0.1},{"m":13,"c":46,"z":2},{"m":13,"c":47,"z":0.2},{"m":13,"c":48,"z":2},{"m":13,"c":49,"z":0.3},{"m":13,"c":50,"z":-0.7},{"m":13,"c":51,"z":-0.4},{"m":13,"c":52,"z":0.1},{"m":13,"c":53,"z":0.8},{"m":13,"c":54,"z":0.8},{"m":13,"c":55,"z":-1.2},{"m":13,"c":56,"z":1.5},{"m":13,"c":57,"z":-0.5},{"m":13,"c":58,"z":-0.8},{"m":13,"c":59,"z":-0.4},{"m":13,"c":60,"z":0.2},{"m":13,"c":61,"z":1.2},{"m":13,"c":62,"z":-0.8},{"m":13,"c":63,"z":-0.9},{"m":13,"c":64,"z":-1.9},{"m":13,"c":65,"z":-1.2},{"m":13,"c":66,"z":0.8},{"m":13,"c":67,"z":-0.7},{"m":13,"c":68,"z":0},{"m":13,"c":69,"z":-0.1},{"m":13,"c":70,"z":0.3},{"m":13,"c":71,"z":-1.1},{"m":13,"c":72,"z":-2},{"m":13,"c":73,"z":-1},{"m":13,"c":74,"z":-0.6},{"m":13,"c":75,"z":-0.1},{"m":13,"c":76,"z":-0.7},{"m":13,"c":77,"z":-0.9},{"m":13,"c":78,"z":0.2},{"m":13,"c":79,"z":0.1},{"m":13,"c":80,"z":-1.1},{"m":13,"c":81,"z":1},{"m":13,"c":82,"z":-2},{"m":13,"c":83,"z":-0.2},{"m":13,"c":84,"z":-0.3},{"m":13,"c":85,"z":0.6},{"m":13,"c":86,"z":0.8},{"m":13,"c":87,"z":-0.2},{"m":13,"c":88,"z":-0.8},{"m":13,"c":89,"z":-1.2},{"m":13,"c":90,"z":-0.6},{"m":13,"c":91,"z":2},{"m":13,"c":92,"z":-0.1},{"m":13,"c":93,"z":0.5},{"m":13,"c":94,"z":1.5},{"m":13,"c":95,"z":-0.8},{"m":13,"c":96,"z":-0.3},{"m":13,"c":97,"z":-0.6},{"m":13,"c":98,"z":-0.3},{"m":13,"c":99,"z":-1.1},{"m":13,"c":100,"z":0.5},{"m":13,"c":101,"z":0.1},{"m":13,"c":102,"z":1.3},{"m":13,"c":103,"z":-0.8},{"m":13,"c":104,"z":-1.2},{"m":13,"c":105,"z":0.4},
{"m":24,"c":0,"z":-0.4},{"m":24,"c":1,"z":0.3},{"m":24,"c":2,"z":1.1},{"m":24,"c":3,"z":0.4},{"m":24,"c":4,"z":2},{"m":24,"c":5,"z":0.8},{"m":24,"c":6,"z":0.2},{"m":24,"c":7,"z":-0.4},{"m":24,"c":8,"z":-1.1},{"m":24,"c":9,"z":-1},{"m":24,"c":10,"z":1},{"m":24,"c":11,"z":0.4},{"m":24,"c":12,"z":-0.5},{"m":24,"c":13,"z":-0.3},{"m":24,"c":14,"z":-1.6},{"m":24,"c":15,"z":2},{"m":24,"c":16,"z":1.3},{"m":24,"c":17,"z":2},{"m":24,"c":18,"z":-0.7},{"m":24,"c":19,"z":-0.6},{"m":24,"c":20,"z":0.9},{"m":24,"c":21,"z":0.5},{"m":24,"c":22,"z":-0.3},{"m":24,"c":23,"z":-0.5},{"m":24,"c":24,"z":-0.3},{"m":24,"c":25,"z":-0.3},{"m":24,"c":26,"z":-0.9},{"m":24,"c":27,"z":1.1},{"m":24,"c":28,"z":1.1},{"m":24,"c":29,"z":0.9},{"m":24,"c":30,"z":2},{"m":24,"c":31,"z":-0.3},{"m":24,"c":32,"z":-0.8},{"m":24,"c":33,"z":-1.2},{"m":24,"c":34,"z":-0.7},{"m":24,"c":35,"z":-1.1},{"m":24,"c":36,"z":-0.8},{"m":24,"c":37,"z":-1.1},{"m":24,"c":38,"z":-0.7},{"m":24,"c":39,"z":-0.2},{"m":24,"c":40,"z":2},{"m":24,"c":41,"z":-0.1},{"m":24,"c":42,"z":1.9},{"m":24,"c":43,"z":-1.3},{"m":24,"c":44,"z":2},{"m":24,"c":45,"z":0.2},{"m":24,"c":46,"z":1.6},{"m":24,"c":47,"z":-0.1},{"m":24,"c":48,"z":0.3},{"m":24,"c":49,"z":0.4},{"m":24,"c":50,"z":-0.3},{"m":24,"c":51,"z":0.9},{"m":24,"c":52,"z":0.4},{"m":24,"c":53,"z":0.6},{"m":24,"c":54,"z":-0.8},{"m":24,"c":55,"z":-0.2},{"m":24,"c":56,"z":-0.3},{"m":24,"c":57,"z":-0.7},{"m":24,"c":58,"z":-0.2},{"m":24,"c":59,"z":-1.3},{"m":24,"c":60,"z":0.2},{"m":24,"c":61,"z":-0.1},{"m":24,"c":62,"z":-0.5},{"m":24,"c":63,"z":0.1},{"m":24,"c":64,"z":-0.4},{"m":24,"c":65,"z":0.8},{"m":24,"c":66,"z":0},{"m":24,"c":67,"z":-0.4},{"m":24,"c":68,"z":-0.3},{"m":24,"c":69,"z":-0.2},{"m":24,"c":70,"z":0.5},{"m":24,"c":71,"z":-0.3},{"m":24,"c":72,"z":0.7},{"m":24,"c":73,"z":-0.9},{"m":24,"c":74,"z":-1.3},{"m":24,"c":75,"z":-1.3},{"m":24,"c":76,"z":1.6},{"m":24,"c":77,"z":0.7},{"m":24,"c":78,"z":-0.6},{"m":24,"c":79,"z":0.1},{"m":24,"c":80,"z":-1.5},{"m":24,"c":81,"z":-0.5},{"m":24,"c":82,"z":-1.1},{"m":24,"c":83,"z":-0.8},{"m":24,"c":84,"z":0.5},{"m":24,"c":85,"z":-0.1},{"m":24,"c":86,"z":0.6},{"m":24,"c":87,"z":0.8},{"m":24,"c":88,"z":0.5},{"m":24,"c":89,"z":-0.2},{"m":24,"c":90,"z":-1.2},{"m":24,"c":91,"z":0.1},{"m":24,"c":92,"z":-1},{"m":24,"c":93,"z":-1.2},{"m":24,"c":94,"z":-0.3},{"m":24,"c":95,"z":-1.7},{"m":24,"c":96,"z":-1},{"m":24,"c":97,"z":-1.2},{"m":24,"c":98,"z":-0.8},{"m":24,"c":99,"z":0.2},{"m":24,"c":100,"z":-0.7},{"m":24,"c":101,"z":-0.5},{"m":24,"c":102,"z":-0.3},{"m":24,"c":103,"z":0.3},{"m":24,"c":104,"z":-0.3},{"m":24,"c":105,"z":1.1},
{"m":1,"c":0,"z":-0.3},{"m":1,"c":1,"z":0.8},{"m":1,"c":2,"z":2},{"m":1,"c":3,"z":0.4},{"m":1,"c":4,"z":1},{"m":1,"c":5,"z":-0.6},{"m":1,"c":6,"z":0.1},{"m":1,"c":7,"z":-1.2},{"m":1,"c":8,"z":0.5},{"m":1,"c":9,"z":0.3},{"m":1,"c":10,"z":2},{"m":1,"c":11,"z":0.3},{"m":1,"c":12,"z":-1.1},{"m":1,"c":13,"z":-0.4},{"m":1,"c":14,"z":-0.6},{"m":1,"c":15,"z":0.2},{"m":1,"c":16,"z":0.2},{"m":1,"c":17,"z":1.9},{"m":1,"c":18,"z":1.2},{"m":1,"c":19,"z":1.1},{"m":1,"c":20,"z":-0.9},{"m":1,"c":21,"z":1.2},{"m":1,"c":22,"z":-0.3},{"m":1,"c":23,"z":0.8},{"m":1,"c":24,"z":1.5},{"m":1,"c":25,"z":0.5},{"m":1,"c":26,"z":1},{"m":1,"c":27,"z":0.9},{"m":1,"c":28,"z":-0.3},{"m":1,"c":29,"z":-0.6},{"m":1,"c":30,"z":0.3},{"m":1,"c":31,"z":1},{"m":1,"c":32,"z":-0.5},{"m":1,"c":33,"z":-1.6},{"m":1,"c":34,"z":-0.5},{"m":1,"c":35,"z":1.9},{"m":1,"c":36,"z":0.2},{"m":1,"c":37,"z":0.2},{"m":1,"c":38,"z":-0.5},{"m":1,"c":39,"z":-0.9},{"m":1,"c":40,"z":-0.2},{"m":1,"c":41,"z":-0.6},{"m":1,"c":42,"z":1.4},{"m":1,"c":43,"z":0.3},{"m":1,"c":44,"z":1},{"m":1,"c":45,"z":-1},{"m":1,"c":46,"z":0.9},{"m":1,"c":47,"z":0.1},{"m":1,"c":48,"z":-0.6},{"m":1,"c":49,"z":-1.1},{"m":1,"c":50,"z":-1.3},{"m":1,"c":51,"z":0.4},{"m":1,"c":52,"z":-1.1},{"m":1,"c":53,"z":-0.1},{"m":1,"c":54,"z":2},{"m":1,"c":55,"z":-0.4},{"m":1,"c":56,"z":-0.2},{"m":1,"c":57,"z":-1},{"m":1,"c":58,"z":-0.3},{"m":1,"c":59,"z":0.6},{"m":1,"c":60,"z":0.5},{"m":1,"c":61,"z":-0.6},{"m":1,"c":62,"z":-1.2},{"m":1,"c":63,"z":-1.4},{"m":1,"c":64,"z":-1.2},{"m":1,"c":65,"z":-1},{"m":1,"c":66,"z":-0.2},{"m":1,"c":67,"z":-0.6},{"m":1,"c":68,"z":0.9},{"m":1,"c":69,"z":1.2},{"m":1,"c":70,"z":1.5},{"m":1,"c":71,"z":0.2},{"m":1,"c":72,"z":-2},{"m":1,"c":73,"z":-1.8},{"m":1,"c":74,"z":-2},{"m":1,"c":75,"z":1.1},{"m":1,"c":76,"z":0.1},{"m":1,"c":77,"z":-0.4},{"m":1,"c":78,"z":0.2},{"m":1,"c":79,"z":-1},{"m":1,"c":80,"z":-1.2},{"m":1,"c":81,"z":-0.4},{"m":1,"c":82,"z":-1.6},{"m":1,"c":83,"z":-0.4},{"m":1,"c":84,"z":1.4},{"m":1,"c":85,"z":1.1},{"m":1,"c":86,"z":-0.3},{"m":1,"c":87,"z":-0.4},{"m":1,"c":88,"z":-1.2},{"m":1,"c":89,"z":-0.8},{"m":1,"c":90,"z":2},{"m":1,"c":91,"z":-0.5},{"m":1,"c":92,"z":0.8},{"m":1,"c":93,"z":-0.3},{"m":1,"c":94,"z":1.2},{"m":1,"c":95,"z":-1.6},{"m":1,"c":96,"z":-0.9},{"m":1,"c":97,"z":-1.2},{"m":1,"c":98,"z":-0.1},{"m":1,"c":99,"z":-0.3},{"m":1,"c":100,"z":-0.5},{"m":1,"c":101,"z":1.4},{"m":1,"c":102,"z":0.3},{"m":1,"c":103,"z":-0.4},{"m":1,"c":104,"z":-0.6},{"m":1,"c":105,"z":0.2},
{"m":29,"c":0,"z":-1.4},{"m":29,"c":1,"z":0.7},{"m":29,"c":2,"z":-0.6},{"m":29,"c":3,"z":0.2},{"m":29,"c":4,"z":-0.3},{"m":29,"c":5,"z":0.1},{"m":29,"c":6,"z":0.9},{"m":29,"c":7,"z":-0.6},{"m":29,"c":8,"z":0.5},{"m":29,"c":9,"z":0.6},{"m":29,"c":10,"z":1.7},{"m":29,"c":11,"z":1},{"m":29,"c":12,"z":0.2},{"m":29,"c":13,"z":-0.8},{"m":29,"c":14,"z":1.5},{"m":29,"c":15,"z":0.8},{"m":29,"c":16,"z":0},{"m":29,"c":17,"z":-0.4},{"m":29,"c":18,"z":2},{"m":29,"c":19,"z":1.9},{"m":29,"c":20,"z":0.1},{"m":29,"c":21,"z":-0.1},{"m":29,"c":22,"z":0.3},{"m":29,"c":23,"z":1.9},{"m":29,"c":24,"z":0.7},{"m":29,"c":25,"z":0},{"m":29,"c":26,"z":-0.1},{"m":29,"c":27,"z":0.4},{"m":29,"c":28,"z":1},{"m":29,"c":29,"z":-0.1},{"m":29,"c":30,"z":-0.2},{"m":29,"c":31,"z":0},{"m":29,"c":32,"z":-0.8},{"m":29,"c":33,"z":-0.5},{"m":29,"c":34,"z":-1.2},{"m":29,"c":35,"z":-0.5},{"m":29,"c":36,"z":-1.8},{"m":29,"c":37,"z":-1.7},{"m":29,"c":38,"z":-0.1},{"m":29,"c":39,"z":0},{"m":29,"c":40,"z":-0.7},{"m":29,"c":41,"z":1},{"m":29,"c":42,"z":0.3},{"m":29,"c":43,"z":0.2},{"m":29,"c":44,"z":0.4},{"m":29,"c":45,"z":0},{"m":29,"c":46,"z":0.2},{"m":29,"c":47,"z":-0.7},{"m":29,"c":48,"z":0.2},{"m":29,"c":49,"z":0.1},{"m":29,"c":50,"z":0.7},{"m":29,"c":51,"z":-1.3},{"m":29,"c":52,"z":1.2},{"m":29,"c":53,"z":0.7},{"m":29,"c":54,"z":1.2},{"m":29,"c":55,"z":-1.1},{"m":29,"c":56,"z":0.2},{"m":29,"c":57,"z":-0.2},{"m":29,"c":58,"z":-0.3},{"m":29,"c":59,"z":-0.6},{"m":29,"c":60,"z":0.7},{"m":29,"c":61,"z":-0.6},{"m":29,"c":62,"z":0.1},{"m":29,"c":63,"z":-0.1},{"m":29,"c":64,"z":-2},{"m":29,"c":65,"z":-0.8},{"m":29,"c":66,"z":-0.6},{"m":29,"c":67,"z":0.3},{"m":29,"c":68,"z":0.7},{"m":29,"c":69,"z":0.5},{"m":29,"c":70,"z":-1},{"m":29,"c":71,"z":-0.9},{"m":29,"c":72,"z":-1.1},{"m":29,"c":73,"z":-0.5},{"m":29,"c":74,"z":-0.6},{"m":29,"c":75,"z":0},{"m":29,"c":76,"z":-1.3},{"m":29,"c":77,"z":-0.7},{"m":29,"c":78,"z":-0.4},{"m":29,"c":79,"z":-0.1},{"m":29,"c":80,"z":0.3},{"m":29,"c":81,"z":0.3},{"m":29,"c":82,"z":-2},{"m":29,"c":83,"z":0},{"m":29,"c":84,"z":0.2},{"m":29,"c":85,"z":0.3},{"m":29,"c":86,"z":0.4},{"m":29,"c":87,"z":0.1},{"m":29,"c":88,"z":-1.3},{"m":29,"c":89,"z":0.5},{"m":29,"c":90,"z":-0.4},{"m":29,"c":91,"z":-1.4},{"m":29,"c":92,"z":0.2},{"m":29,"c":93,"z":-0.6},{"m":29,"c":94,"z":0.9},{"m":29,"c":95,"z":-1.1},{"m":29,"c":96,"z":1},{"m":29,"c":97,"z":-0.6},{"m":29,"c":98,"z":0.3},{"m":29,"c":99,"z":-0.9},{"m":29,"c":100,"z":-1.2},{"m":29,"c":101,"z":-0.3},{"m":29,"c":102,"z":1},{"m":29,"c":103,"z":0.1},{"m":29,"c":104,"z":0.3},{"m":29,"c":105,"z":-0.1},
{"m":3,"c":0,"z":-0.7},{"m":3,"c":1,"z":1.2},{"m":3,"c":2,"z":1.8},{"m":3,"c":3,"z":0.1},{"m":3,"c":4,"z":1.8},{"m":3,"c":5,"z":-0.3},{"m":3,"c":6,"z":0.6},{"m":3,"c":7,"z":-0.4},{"m":3,"c":8,"z":0},{"m":3,"c":9,"z":0.3},{"m":3,"c":10,"z":0.5},{"m":3,"c":11,"z":-0.3},{"m":3,"c":12,"z":-0.5},{"m":3,"c":13,"z":-0.9},{"m":3,"c":14,"z":1.2},{"m":3,"c":15,"z":1.2},{"m":3,"c":16,"z":0.3},{"m":3,"c":17,"z":1.4},{"m":3,"c":18,"z":0},{"m":3,"c":19,"z":0.3},{"m":3,"c":20,"z":-0.7},{"m":3,"c":21,"z":1},{"m":3,"c":22,"z":-0.5},{"m":3,"c":23,"z":-0.3},{"m":3,"c":24,"z":0.4},{"m":3,"c":25,"z":0.8},{"m":3,"c":26,"z":-1.3},{"m":3,"c":27,"z":0.6},{"m":3,"c":28,"z":1.4},{"m":3,"c":29,"z":0.9},{"m":3,"c":30,"z":1.2},{"m":3,"c":31,"z":2},{"m":3,"c":32,"z":-1.2},{"m":3,"c":33,"z":-1.6},{"m":3,"c":34,"z":0.3},{"m":3,"c":35,"z":1.4},{"m":3,"c":36,"z":-1.8},{"m":3,"c":37,"z":-1.2},{"m":3,"c":38,"z":-0.8},{"m":3,"c":39,"z":-0.8},{"m":3,"c":40,"z":-1},{"m":3,"c":41,"z":-0.6},{"m":3,"c":42,"z":2},{"m":3,"c":43,"z":0.4},{"m":3,"c":44,"z":1.1},{"m":3,"c":45,"z":-0.5},{"m":3,"c":46,"z":1.1},{"m":3,"c":47,"z":1.3},{"m":3,"c":48,"z":-0.4},{"m":3,"c":49,"z":-1.2},{"m":3,"c":50,"z":-1.4},{"m":3,"c":51,"z":-0.4},{"m":3,"c":52,"z":-0.9},{"m":3,"c":53,"z":1.2},{"m":3,"c":54,"z":2},{"m":3,"c":55,"z":-0.4},{"m":3,"c":56,"z":-0.5},{"m":3,"c":57,"z":0.1},{"m":3,"c":58,"z":1.6},{"m":3,"c":59,"z":0.6},{"m":3,"c":60,"z":0.3},{"m":3,"c":61,"z":-0.5},{"m":3,"c":62,"z":-0.9},{"m":3,"c":63,"z":-0.4},{"m":3,"c":64,"z":0},{"m":3,"c":65,"z":-1.6},{"m":3,"c":66,"z":-0.4},{"m":3,"c":67,"z":-1.2},{"m":3,"c":68,"z":0.5},{"m":3,"c":69,"z":0.8},{"m":3,"c":70,"z":-0.6},{"m":3,"c":71,"z":-1},{"m":3,"c":72,"z":-1.6},{"m":3,"c":73,"z":-1.6},{"m":3,"c":74,"z":-0.9},{"m":3,"c":75,"z":0.7},{"m":3,"c":76,"z":-0.6},{"m":3,"c":77,"z":-1.4},{"m":3,"c":78,"z":1.9},{"m":3,"c":79,"z":0.3},{"m":3,"c":80,"z":-0.7},{"m":3,"c":81,"z":0.2},{"m":3,"c":82,"z":-0.1},{"m":3,"c":83,"z":0.7},{"m":3,"c":84,"z":0.4},{"m":3,"c":85,"z":2},{"m":3,"c":86,"z":-0.5},{"m":3,"c":87,"z":-0.6},{"m":3,"c":88,"z":-1.1},{"m":3,"c":89,"z":-0.6},{"m":3,"c":90,"z":-0.4},{"m":3,"c":91,"z":-0.7},{"m":3,"c":92,"z":0.1},{"m":3,"c":93,"z":-0.1},{"m":3,"c":94,"z":-0.3},{"m":3,"c":95,"z":-1.4},{"m":3,"c":96,"z":-0.9},{"m":3,"c":97,"z":-0.7},{"m":3,"c":98,"z":-0.2},{"m":3,"c":99,"z":-1.2},{"m":3,"c":100,"z":1.3},{"m":3,"c":101,"z":0.3},{"m":3,"c":102,"z":-0.7},{"m":3,"c":103,"z":-0.6},{"m":3,"c":104,"z":-0.6},{"m":3,"c":105,"z":1.2},
{"m":17,"c":0,"z":-0.5},{"m":17,"c":1,"z":-1},{"m":17,"c":2,"z":0.3},{"m":17,"c":3,"z":0.2},{"m":17,"c":4,"z":1.7},{"m":17,"c":5,"z":0.2},{"m":17,"c":6,"z":-0.9},{"m":17,"c":7,"z":-0.5},{"m":17,"c":8,"z":-0.5},{"m":17,"c":9,"z":1.2},{"m":17,"c":10,"z":0.9},{"m":17,"c":11,"z":0.4},{"m":17,"c":12,"z":-0.9},{"m":17,"c":13,"z":-0.2},{"m":17,"c":14,"z":0.2},{"m":17,"c":15,"z":0.2},{"m":17,"c":16,"z":-0.2},{"m":17,"c":17,"z":1.5},{"m":17,"c":18,"z":1.2},{"m":17,"c":19,"z":2},{"m":17,"c":20,"z":1.5},{"m":17,"c":21,"z":-0.4},{"m":17,"c":22,"z":-0.9},{"m":17,"c":23,"z":0.1},{"m":17,"c":24,"z":-0.1},{"m":17,"c":25,"z":1.4},{"m":17,"c":26,"z":0.1},{"m":17,"c":27,"z":0.6},{"m":17,"c":28,"z":-0.3},{"m":17,"c":29,"z":-0.5},{"m":17,"c":30,"z":0.1},{"m":17,"c":31,"z":-0.2},{"m":17,"c":32,"z":-1},{"m":17,"c":33,"z":-0.6},{"m":17,"c":34,"z":-0.4},{"m":17,"c":35,"z":-0.1},{"m":17,"c":36,"z":0.1},{"m":17,"c":37,"z":-0.7},{"m":17,"c":38,"z":-0.8},{"m":17,"c":39,"z":-0.2},{"m":17,"c":40,"z":2},{"m":17,"c":41,"z":-0.8},{"m":17,"c":42,"z":0.7},{"m":17,"c":43,"z":0},{"m":17,"c":44,"z":1},{"m":17,"c":45,"z":-1.1},{"m":17,"c":46,"z":0.7},{"m":17,"c":47,"z":1.2},{"m":17,"c":48,"z":-0.2},{"m":17,"c":49,"z":-0.8},{"m":17,"c":50,"z":-0.2},{"m":17,"c":51,"z":-0.3},{"m":17,"c":52,"z":-0.4},{"m":17,"c":53,"z":1.2},{"m":17,"c":54,"z":1.7},{"m":17,"c":55,"z":-1},{"m":17,"c":56,"z":-0.8},{"m":17,"c":57,"z":-1.5},{"m":17,"c":58,"z":0.1},{"m":17,"c":59,"z":-0.6},{"m":17,"c":60,"z":-0.8},{"m":17,"c":61,"z":-1.6},{"m":17,"c":62,"z":0.2},{"m":17,"c":63,"z":-0.8},{"m":17,"c":64,"z":-1.6},{"m":17,"c":65,"z":0},{"m":17,"c":66,"z":0},{"m":17,"c":67,"z":-1.6},{"m":17,"c":68,"z":-1.2},{"m":17,"c":69,"z":-0.6},{"m":17,"c":70,"z":1.2},{"m":17,"c":71,"z":-1.6},{"m":17,"c":72,"z":1},{"m":17,"c":73,"z":-1},{"m":17,"c":74,"z":-1.3},{"m":17,"c":75,"z":0.1},{"m":17,"c":76,"z":-0.7},{"m":17,"c":77,"z":-0.9},{"m":17,"c":78,"z":-0.3},{"m":17,"c":79,"z":0.1},{"m":17,"c":80,"z":-1.1},{"m":17,"c":81,"z":-0.1},{"m":17,"c":82,"z":1.6},{"m":17,"c":83,"z":-0.4},{"m":17,"c":84,"z":-0.3},{"m":17,"c":85,"z":1.3},{"m":17,"c":86,"z":-0.4},{"m":17,"c":87,"z":2},{"m":17,"c":88,"z":0.2},{"m":17,"c":89,"z":-0.7},{"m":17,"c":90,"z":0.2},{"m":17,"c":91,"z":1.4},{"m":17,"c":92,"z":0.2},{"m":17,"c":93,"z":-0.1},{"m":17,"c":94,"z":-0.2},{"m":17,"c":95,"z":-0.7},{"m":17,"c":96,"z":-0.5},{"m":17,"c":97,"z":-0.9},{"m":17,"c":98,"z":2},{"m":17,"c":99,"z":-0.8},{"m":17,"c":100,"z":0.2},{"m":17,"c":101,"z":-0.1},{"m":17,"c":102,"z":-0.5},{"m":17,"c":103,"z":-0.4},{"m":17,"c":104,"z":-0.7},{"m":17,"c":105,"z":0.3},
{"m":12,"c":0,"z":-1.4},{"m":12,"c":1,"z":0.2},{"m":12,"c":2,"z":1.1},{"m":12,"c":3,"z":-1},{"m":12,"c":4,"z":0.2},{"m":12,"c":5,"z":-0.2},{"m":12,"c":6,"z":-0.3},{"m":12,"c":7,"z":-0.7},{"m":12,"c":8,"z":0.5},{"m":12,"c":9,"z":1.2},{"m":12,"c":10,"z":0},{"m":12,"c":11,"z":0.9},{"m":12,"c":12,"z":-0.7},{"m":12,"c":13,"z":-0.9},{"m":12,"c":14,"z":1.4},{"m":12,"c":15,"z":1.3},{"m":12,"c":16,"z":0.8},{"m":12,"c":17,"z":1},{"m":12,"c":18,"z":2},{"m":12,"c":19,"z":0.6},{"m":12,"c":20,"z":0.9},{"m":12,"c":21,"z":0.2},{"m":12,"c":22,"z":-0.5},{"m":12,"c":23,"z":0.9},{"m":12,"c":24,"z":1},{"m":12,"c":25,"z":1.9},{"m":12,"c":26,"z":0.2},{"m":12,"c":27,"z":1.2},{"m":12,"c":28,"z":0.1},{"m":12,"c":29,"z":-0.2},{"m":12,"c":30,"z":0.6},{"m":12,"c":31,"z":0},{"m":12,"c":32,"z":-2},{"m":12,"c":33,"z":0.5},{"m":12,"c":34,"z":-0.1},{"m":12,"c":35,"z":0.3},{"m":12,"c":36,"z":0.2},{"m":12,"c":37,"z":-1},{"m":12,"c":38,"z":-1.6},{"m":12,"c":39,"z":-0.2},{"m":12,"c":40,"z":-1},{"m":12,"c":41,"z":-0.8},{"m":12,"c":42,"z":1},{"m":12,"c":43,"z":0.1},{"m":12,"c":44,"z":0.8},{"m":12,"c":45,"z":-0.5},{"m":12,"c":46,"z":1.8},{"m":12,"c":47,"z":-0.4},{"m":12,"c":48,"z":-0.2},{"m":12,"c":49,"z":-1.4},{"m":12,"c":50,"z":0.3},{"m":12,"c":51,"z":-0.5},{"m":12,"c":52,"z":-0.5},{"m":12,"c":53,"z":0.1},{"m":12,"c":54,"z":2},{"m":12,"c":55,"z":-0.6},{"m":12,"c":56,"z":-0.7},{"m":12,"c":57,"z":-1.3},{"m":12,"c":58,"z":0.6},{"m":12,"c":59,"z":1.4},{"m":12,"c":60,"z":0.4},{"m":12,"c":61,"z":-0.6},{"m":12,"c":62,"z":-0.7},{"m":12,"c":63,"z":-1.3},{"m":12,"c":64,"z":0.5},{"m":12,"c":65,"z":0.6},{"m":12,"c":66,"z":0.3},{"m":12,"c":67,"z":-0.4},{"m":12,"c":68,"z":0},{"m":12,"c":69,"z":0.5},{"m":12,"c":70,"z":-0.2},{"m":12,"c":71,"z":-0.5},{"m":12,"c":72,"z":-1.8},{"m":12,"c":73,"z":-1.4},{"m":12,"c":74,"z":-1.9},{"m":12,"c":75,"z":0.3},{"m":12,"c":76,"z":-1.1},{"m":12,"c":77,"z":-1.7},{"m":12,"c":78,"z":1.3},{"m":12,"c":79,"z":0.4},{"m":12,"c":80,"z":-1.8},{"m":12,"c":81,"z":2},{"m":12,"c":82,"z":0.2},{"m":12,"c":83,"z":-0.1},{"m":12,"c":84,"z":-0.3},{"m":12,"c":85,"z":0.9},{"m":12,"c":86,"z":-0.3},{"m":12,"c":87,"z":-0.2},{"m":12,"c":88,"z":-0.1},{"m":12,"c":89,"z":-1},{"m":12,"c":90,"z":-0.5},{"m":12,"c":91,"z":-0.6},{"m":12,"c":92,"z":-1.1},{"m":12,"c":93,"z":0.6},{"m":12,"c":94,"z":-0.7},{"m":12,"c":95,"z":0.2},{"m":12,"c":96,"z":-0.7},{"m":12,"c":97,"z":-1},{"m":12,"c":98,"z":0.6},{"m":12,"c":99,"z":-1.4},{"m":12,"c":100,"z":1.9},{"m":12,"c":101,"z":0.4},{"m":12,"c":102,"z":-0.6},{"m":12,"c":103,"z":-0.6},{"m":12,"c":104,"z":-0.4},{"m":12,"c":105,"z":-0.3},
{"m":20,"c":0,"z":-1.2},{"m":20,"c":1,"z":1},{"m":20,"c":2,"z":2},{"m":20,"c":3,"z":0.4},{"m":20,"c":4,"z":-0.6},{"m":20,"c":5,"z":-0.7},{"m":20,"c":6,"z":-0.6},{"m":20,"c":7,"z":-1.1},{"m":20,"c":8,"z":0.2},{"m":20,"c":9,"z":0.1},{"m":20,"c":10,"z":2},{"m":20,"c":11,"z":-0.2},{"m":20,"c":12,"z":0.8},{"m":20,"c":13,"z":-0.9},{"m":20,"c":14,"z":1.5},{"m":20,"c":15,"z":1.7},{"m":20,"c":16,"z":-0.1},{"m":20,"c":17,"z":0.1},{"m":20,"c":18,"z":0.4},{"m":20,"c":19,"z":0.5},{"m":20,"c":20,"z":-0.7},{"m":20,"c":21,"z":-0.4},{"m":20,"c":22,"z":0.1},{"m":20,"c":23,"z":0.3},{"m":20,"c":24,"z":-0.4},{"m":20,"c":25,"z":-0.4},{"m":20,"c":26,"z":0.8},{"m":20,"c":27,"z":-0.1},{"m":20,"c":28,"z":-0.1},{"m":20,"c":29,"z":0.3},{"m":20,"c":30,"z":0.1},{"m":20,"c":31,"z":-0.7},{"m":20,"c":32,"z":-1.3},{"m":20,"c":33,"z":-0.2},{"m":20,"c":34,"z":0.1},{"m":20,"c":35,"z":1},{"m":20,"c":36,"z":-2},{"m":20,"c":37,"z":-1.3},{"m":20,"c":38,"z":-1.5},{"m":20,"c":39,"z":0.8},{"m":20,"c":40,"z":-1.7},{"m":20,"c":41,"z":-0.6},{"m":20,"c":42,"z":0.4},{"m":20,"c":43,"z":0.2},{"m":20,"c":44,"z":-0.3},{"m":20,"c":45,"z":0},{"m":20,"c":46,"z":1},{"m":20,"c":47,"z":0.3},{"m":20,"c":48,"z":0.6},{"m":20,"c":49,"z":-0.9},{"m":20,"c":50,"z":-1},{"m":20,"c":51,"z":-1.5},{"m":20,"c":52,"z":-0.9},{"m":20,"c":53,"z":-0.4},{"m":20,"c":54,"z":2},{"m":20,"c":55,"z":-1},{"m":20,"c":56,"z":-0.2},{"m":20,"c":57,"z":-0.8},{"m":20,"c":58,"z":1},{"m":20,"c":59,"z":2},{"m":20,"c":60,"z":0.5},{"m":20,"c":61,"z":-0.7},{"m":20,"c":62,"z":0},{"m":20,"c":63,"z":-0.9},{"m":20,"c":64,"z":0.3},{"m":20,"c":65,"z":-0.6},{"m":20,"c":66,"z":-0.1},{"m":20,"c":67,"z":-1.2},{"m":20,"c":68,"z":-0.4},{"m":20,"c":69,"z":0.5},{"m":20,"c":70,"z":-0.1},{"m":20,"c":71,"z":-0.7},{"m":20,"c":72,"z":-0.1},{"m":20,"c":73,"z":-1.4},{"m":20,"c":74,"z":-1},{"m":20,"c":75,"z":0.2},{"m":20,"c":76,"z":-0.9},{"m":20,"c":77,"z":-1.2},{"m":20,"c":78,"z":0.5},{"m":20,"c":79,"z":0.9},{"m":20,"c":80,"z":0.3},{"m":20,"c":81,"z":1.4},{"m":20,"c":82,"z":-0.3},{"m":20,"c":83,"z":-0.3},{"m":20,"c":84,"z":-0.2},{"m":20,"c":85,"z":-1},{"m":20,"c":86,"z":-0.7},{"m":20,"c":87,"z":-1.2},{"m":20,"c":88,"z":-0.8},{"m":20,"c":89,"z":0.5},{"m":20,"c":90,"z":0.2},{"m":20,"c":91,"z":0.1},{"m":20,"c":92,"z":-0.4},{"m":20,"c":93,"z":0.3},{"m":20,"c":94,"z":-0.6},{"m":20,"c":95,"z":2},{"m":20,"c":96,"z":2},{"m":20,"c":97,"z":-0.9},{"m":20,"c":98,"z":0.4},{"m":20,"c":99,"z":-0.8},{"m":20,"c":100,"z":0.3},{"m":20,"c":101,"z":-0.6},{"m":20,"c":102,"z":-0.2},{"m":20,"c":103,"z":2},{"m":20,"c":104,"z":0.9},{"m":20,"c":105,"z":-0.3},
{"m":10,"c":0,"z":0.2},{"m":10,"c":1,"z":1.2},{"m":10,"c":2,"z":0.9},{"m":10,"c":3,"z":0.5},{"m":10,"c":4,"z":0.7},{"m":10,"c":5,"z":0.3},{"m":10,"c":6,"z":-0.3},{"m":10,"c":7,"z":-0.6},{"m":10,"c":8,"z":0.6},{"m":10,"c":9,"z":-1},{"m":10,"c":10,"z":0.3},{"m":10,"c":11,"z":-0.3},{"m":10,"c":12,"z":-0.1},{"m":10,"c":13,"z":-0.1},{"m":10,"c":14,"z":-1.2},{"m":10,"c":15,"z":2},{"m":10,"c":16,"z":0.4},{"m":10,"c":17,"z":1.1},{"m":10,"c":18,"z":1.2},{"m":10,"c":19,"z":0.6},{"m":10,"c":20,"z":-0.5},{"m":10,"c":21,"z":-0.6},{"m":10,"c":22,"z":-0.2},{"m":10,"c":23,"z":1.9},{"m":10,"c":24,"z":1},{"m":10,"c":25,"z":0},{"m":10,"c":26,"z":0.8},{"m":10,"c":27,"z":2},{"m":10,"c":28,"z":2},{"m":10,"c":29,"z":1.7},{"m":10,"c":30,"z":0.5},{"m":10,"c":31,"z":-0.4},{"m":10,"c":32,"z":-0.4},{"m":10,"c":33,"z":-0.5},{"m":10,"c":34,"z":-0.4},{"m":10,"c":35,"z":-1.3},{"m":10,"c":36,"z":-1.6},{"m":10,"c":37,"z":-1.1},{"m":10,"c":38,"z":-0.8},{"m":10,"c":39,"z":0.1},{"m":10,"c":40,"z":-1.5},{"m":10,"c":41,"z":-0.2},{"m":10,"c":42,"z":2},{"m":10,"c":43,"z":-1},{"m":10,"c":44,"z":0.8},{"m":10,"c":45,"z":-0.6},{"m":10,"c":46,"z":2},{"m":10,"c":47,"z":0.4},{"m":10,"c":48,"z":0.9},{"m":10,"c":49,"z":-0.9},{"m":10,"c":50,"z":-0.2},{"m":10,"c":51,"z":0},{"m":10,"c":52,"z":-0.3},{"m":10,"c":53,"z":0.3},{"m":10,"c":54,"z":-0.2},{"m":10,"c":55,"z":0.4},{"m":10,"c":56,"z":0.3},{"m":10,"c":57,"z":-1},{"m":10,"c":58,"z":1},{"m":10,"c":59,"z":0.3},{"m":10,"c":60,"z":0.1},{"m":10,"c":61,"z":-0.2},{"m":10,"c":62,"z":-0.4},{"m":10,"c":63,"z":0.5},{"m":10,"c":64,"z":-0.2},{"m":10,"c":65,"z":0},{"m":10,"c":66,"z":-0.6},{"m":10,"c":67,"z":-0.2},{"m":10,"c":68,"z":-0.1},{"m":10,"c":69,"z":-0.6},{"m":10,"c":70,"z":-1.2},{"m":10,"c":71,"z":1},{"m":10,"c":72,"z":-0.1},{"m":10,"c":73,"z":0.4},{"m":10,"c":74,"z":0.3},{"m":10,"c":75,"z":-0.7},{"m":10,"c":76,"z":2},{"m":10,"c":77,"z":-0.6},{"m":10,"c":78,"z":0},{"m":10,"c":79,"z":-0.3},{"m":10,"c":80,"z":-0.8},{"m":10,"c":81,"z":1.2},{"m":10,"c":82,"z":0.2},{"m":10,"c":83,"z":-0.3},{"m":10,"c":84,"z":-0.4},{"m":10,"c":85,"z":-0.2},{"m":10,"c":86,"z":-0.6},{"m":10,"c":87,"z":-1},{"m":10,"c":88,"z":-0.5},{"m":10,"c":89,"z":0},{"m":10,"c":90,"z":-0.1},{"m":10,"c":91,"z":-1.1},{"m":10,"c":92,"z":-0.5},{"m":10,"c":93,"z":0.4},{"m":10,"c":94,"z":0},{"m":10,"c":95,"z":-1.7},{"m":10,"c":96,"z":-1.5},{"m":10,"c":97,"z":-1.5},{"m":10,"c":98,"z":-0.9},{"m":10,"c":99,"z":-0.2},{"m":10,"c":100,"z":-0.9},{"m":10,"c":101,"z":0},{"m":10,"c":102,"z":-0.2},{"m":10,"c":103,"z":0.1},{"m":10,"c":104,"z":-0.2},{"m":10,"c":105,"z":1.7},
{"m":28,"c":0,"z":-0.6},{"m":28,"c":1,"z":0.1},{"m":28,"c":2,"z":2},{"m":28,"c":3,"z":0.3},{"m":28,"c":4,"z":1.7},{"m":28,"c":5,"z":0.3},{"m":28,"c":6,"z":1.9},{"m":28,"c":7,"z":-0.2},{"m":28,"c":8,"z":1.4},{"m":28,"c":9,"z":-1.4},{"m":28,"c":10,"z":-1.6},{"m":28,"c":11,"z":-0.1},{"m":28,"c":12,"z":-0.8},{"m":28,"c":13,"z":-0.7},{"m":28,"c":14,"z":-0.7},{"m":28,"c":15,"z":2},{"m":28,"c":16,"z":0.5},{"m":28,"c":17,"z":0.8},{"m":28,"c":18,"z":-1.6},{"m":28,"c":19,"z":-1.5},{"m":28,"c":20,"z":-0.1},{"m":28,"c":21,"z":1},{"m":28,"c":22,"z":-0.2},{"m":28,"c":23,"z":0.3},{"m":28,"c":24,"z":0.4},{"m":28,"c":25,"z":-0.4},{"m":28,"c":26,"z":1.4},{"m":28,"c":27,"z":0.4},{"m":28,"c":28,"z":-0.1},{"m":28,"c":29,"z":0.3},{"m":28,"c":30,"z":1.3},{"m":28,"c":31,"z":2},{"m":28,"c":32,"z":-0.9},{"m":28,"c":33,"z":-0.7},{"m":28,"c":34,"z":-0.6},{"m":28,"c":35,"z":-1.1},{"m":28,"c":36,"z":2},{"m":28,"c":37,"z":0.1},{"m":28,"c":38,"z":-0.1},{"m":28,"c":39,"z":-0.3},{"m":28,"c":40,"z":0},{"m":28,"c":41,"z":0.2},{"m":28,"c":42,"z":0.7},{"m":28,"c":43,"z":0.2},{"m":28,"c":44,"z":1.2},{"m":28,"c":45,"z":0.5},{"m":28,"c":46,"z":0.7},{"m":28,"c":47,"z":-0.9},{"m":28,"c":48,"z":0.5},{"m":28,"c":49,"z":-0.6},{"m":28,"c":50,"z":1.1},{"m":28,"c":51,"z":0.5},{"m":28,"c":52,"z":-0.3},{"m":28,"c":53,"z":0.1},{"m":28,"c":54,"z":0.5},{"m":28,"c":55,"z":-1.1},{"m":28,"c":56,"z":-0.3},{"m":28,"c":57,"z":0.2},{"m":28,"c":58,"z":-1},{"m":28,"c":59,"z":-1.8},{"m":28,"c":60,"z":-0.2},{"m":28,"c":61,"z":-0.3},{"m":28,"c":62,"z":-0.5},{"m":28,"c":63,"z":-0.5},{"m":28,"c":64,"z":1},{"m":28,"c":65,"z":-0.4},{"m":28,"c":66,"z":-0.7},{"m":28,"c":67,"z":-0.5},{"m":28,"c":68,"z":-0.3},{"m":28,"c":69,"z":0.8},{"m":28,"c":70,"z":-1},{"m":28,"c":71,"z":-1.2},{"m":28,"c":72,"z":-1.7},{"m":28,"c":73,"z":-0.9},{"m":28,"c":74,"z":-0.6},{"m":28,"c":75,"z":-1},{"m":28,"c":76,"z":-0.8},{"m":28,"c":77,"z":0.6},{"m":28,"c":78,"z":-0.1},{"m":28,"c":79,"z":1.3},{"m":28,"c":80,"z":-0.1},{"m":28,"c":81,"z":0},{"m":28,"c":82,"z":0},{"m":28,"c":83,"z":0.5},{"m":28,"c":84,"z":0.9},{"m":28,"c":85,"z":1.7},{"m":28,"c":86,"z":0.4},{"m":28,"c":87,"z":0.1},{"m":28,"c":88,"z":-0.8},{"m":28,"c":89,"z":-0.3},{"m":28,"c":90,"z":-0.8},{"m":28,"c":91,"z":-2},{"m":28,"c":92,"z":-0.8},{"m":28,"c":93,"z":-0.8},{"m":28,"c":94,"z":0.2},{"m":28,"c":95,"z":-1},{"m":28,"c":96,"z":-0.1},{"m":28,"c":97,"z":-0.6},{"m":28,"c":98,"z":-1.5},{"m":28,"c":99,"z":-0.6},{"m":28,"c":100,"z":1.3},{"m":28,"c":101,"z":1.1},{"m":28,"c":102,"z":-0.1},{"m":28,"c":103,"z":0.1},{"m":28,"c":104,"z":-0.5},{"m":28,"c":105,"z":-0.3},
{"m":7,"c":0,"z":-0.9},{"m":7,"c":1,"z":-0.3},{"m":7,"c":2,"z":1},{"m":7,"c":3,"z":1.9},{"m":7,"c":4,"z":0.1},{"m":7,"c":5,"z":0.6},{"m":7,"c":6,"z":0.3},{"m":7,"c":7,"z":-0.6},{"m":7,"c":8,"z":-0.4},{"m":7,"c":9,"z":-0.3},{"m":7,"c":10,"z":0.7},{"m":7,"c":11,"z":0.3},{"m":7,"c":12,"z":0.1},{"m":7,"c":13,"z":-0.4},{"m":7,"c":14,"z":0.2},{"m":7,"c":15,"z":0.7},{"m":7,"c":16,"z":1},{"m":7,"c":17,"z":2},{"m":7,"c":18,"z":0.4},{"m":7,"c":19,"z":-0.6},{"m":7,"c":20,"z":-0.1},{"m":7,"c":21,"z":-0.4},{"m":7,"c":22,"z":-0.6},{"m":7,"c":23,"z":0.9},{"m":7,"c":24,"z":0},{"m":7,"c":25,"z":1.9},{"m":7,"c":26,"z":1.9},{"m":7,"c":27,"z":1.6},{"m":7,"c":28,"z":0.3},{"m":7,"c":29,"z":0.3},{"m":7,"c":30,"z":0.1},{"m":7,"c":31,"z":0.7},{"m":7,"c":32,"z":-1.6},{"m":7,"c":33,"z":0.6},{"m":7,"c":34,"z":-0.2},{"m":7,"c":35,"z":0.5},{"m":7,"c":36,"z":-1.5},{"m":7,"c":37,"z":-1.6},{"m":7,"c":38,"z":-0.2},{"m":7,"c":39,"z":1.6},{"m":7,"c":40,"z":-1.6},{"m":7,"c":41,"z":0.2},{"m":7,"c":42,"z":0.6},{"m":7,"c":43,"z":0.2},{"m":7,"c":44,"z":1.2},{"m":7,"c":45,"z":-0.6},{"m":7,"c":46,"z":0.9},{"m":7,"c":47,"z":0.1},{"m":7,"c":48,"z":-0.3},{"m":7,"c":49,"z":0},{"m":7,"c":50,"z":-0.9},{"m":7,"c":51,"z":0.5},{"m":7,"c":52,"z":-0.7},{"m":7,"c":53,"z":0.3},{"m":7,"c":54,"z":1.7},{"m":7,"c":55,"z":-0.5},{"m":7,"c":56,"z":-0.9},{"m":7,"c":57,"z":-1.3},{"m":7,"c":58,"z":0.9},{"m":7,"c":59,"z":0},{"m":7,"c":60,"z":0.7},{"m":7,"c":61,"z":-1.2},{"m":7,"c":62,"z":-1},{"m":7,"c":63,"z":-1.5},{"m":7,"c":64,"z":-1.2},{"m":7,"c":65,"z":-1.2},{"m":7,"c":66,"z":-0.3},{"m":7,"c":67,"z":-0.1},{"m":7,"c":68,"z":-0.9},{"m":7,"c":69,"z":0.6},{"m":7,"c":70,"z":-1},{"m":7,"c":71,"z":-0.3},{"m":7,"c":72,"z":-2},{"m":7,"c":73,"z":-1.6},{"m":7,"c":74,"z":-1.5},{"m":7,"c":75,"z":0.5},{"m":7,"c":76,"z":-1.2},{"m":7,"c":77,"z":-0.9},{"m":7,"c":78,"z":0.8},{"m":7,"c":79,"z":1.1},{"m":7,"c":80,"z":-0.4},{"m":7,"c":81,"z":0.1},{"m":7,"c":82,"z":-1.3},{"m":7,"c":83,"z":0.3},{"m":7,"c":84,"z":-0.2},{"m":7,"c":85,"z":1.1},{"m":7,"c":86,"z":0},{"m":7,"c":87,"z":0.8},{"m":7,"c":88,"z":-0.6},{"m":7,"c":89,"z":-0.4},{"m":7,"c":90,"z":0.4},{"m":7,"c":91,"z":0.3},{"m":7,"c":92,"z":2},{"m":7,"c":93,"z":-0.4},{"m":7,"c":94,"z":-0.9},{"m":7,"c":95,"z":-0.8},{"m":7,"c":96,"z":2},{"m":7,"c":97,"z":0.9},{"m":7,"c":98,"z":-0.9},{"m":7,"c":99,"z":0},{"m":7,"c":100,"z":0.3},{"m":7,"c":101,"z":-0.2},{"m":7,"c":102,"z":-1.1},{"m":7,"c":103,"z":-0.6},{"m":7,"c":104,"z":-1},{"m":7,"c":105,"z":0.1},
{"m":4,"c":0,"z":-1.3},{"m":4,"c":1,"z":1.6},{"m":4,"c":2,"z":2},{"m":4,"c":3,"z":0.1},{"m":4,"c":4,"z":0.8},{"m":4,"c":5,"z":-0.4},{"m":4,"c":6,"z":-0.3},{"m":4,"c":7,"z":-0.6},{"m":4,"c":8,"z":0.3},{"m":4,"c":9,"z":-1.3},{"m":4,"c":10,"z":1.8},{"m":4,"c":11,"z":-0.5},{"m":4,"c":12,"z":0.2},{"m":4,"c":13,"z":-0.6},{"m":4,"c":14,"z":-1.3},{"m":4,"c":15,"z":1.9},{"m":4,"c":16,"z":-0.2},{"m":4,"c":17,"z":0},{"m":4,"c":18,"z":0},{"m":4,"c":19,"z":-0.4},{"m":4,"c":20,"z":-1.4},{"m":4,"c":21,"z":-0.2},{"m":4,"c":22,"z":-0.5},{"m":4,"c":23,"z":1.5},{"m":4,"c":24,"z":1.5},{"m":4,"c":25,"z":1.2},{"m":4,"c":26,"z":0.3},{"m":4,"c":27,"z":1.4},{"m":4,"c":28,"z":0.8},{"m":4,"c":29,"z":0.7},{"m":4,"c":30,"z":-0.1},{"m":4,"c":31,"z":-0.4},{"m":4,"c":32,"z":-1.4},{"m":4,"c":33,"z":-0.3},{"m":4,"c":34,"z":0},{"m":4,"c":35,"z":-1},{"m":4,"c":36,"z":2},{"m":4,"c":37,"z":2},{"m":4,"c":38,"z":-0.7},{"m":4,"c":39,"z":0.2},{"m":4,"c":40,"z":0},{"m":4,"c":41,"z":0.3},{"m":4,"c":42,"z":1.5},{"m":4,"c":43,"z":-0.7},{"m":4,"c":44,"z":1.2},{"m":4,"c":45,"z":-0.6},{"m":4,"c":46,"z":0.3},{"m":4,"c":47,"z":1.4},{"m":4,"c":48,"z":-0.3},{"m":4,"c":49,"z":-1.1},{"m":4,"c":50,"z":-0.9},{"m":4,"c":51,"z":-0.1},{"m":4,"c":52,"z":0.1},{"m":4,"c":53,"z":0.3},{"m":4,"c":54,"z":-0.1},{"m":4,"c":55,"z":1.5},{"m":4,"c":56,"z":-1},{"m":4,"c":57,"z":0.1},{"m":4,"c":58,"z":0.8},{"m":4,"c":59,"z":0.5},{"m":4,"c":60,"z":0.3},{"m":4,"c":61,"z":-1},{"m":4,"c":62,"z":-0.4},{"m":4,"c":63,"z":-0.4},{"m":4,"c":64,"z":0.6},{"m":4,"c":65,"z":-1},{"m":4,"c":66,"z":-0.9},{"m":4,"c":67,"z":-0.8},{"m":4,"c":68,"z":0.8},{"m":4,"c":69,"z":0.8},{"m":4,"c":70,"z":-0.4},{"m":4,"c":71,"z":-1.4},{"m":4,"c":72,"z":-0.5},{"m":4,"c":73,"z":-1.5},{"m":4,"c":74,"z":-1},{"m":4,"c":75,"z":-1},{"m":4,"c":76,"z":-1.1},{"m":4,"c":77,"z":-0.6},{"m":4,"c":78,"z":-0.5},{"m":4,"c":79,"z":0.7},{"m":4,"c":80,"z":-0.7},{"m":4,"c":81,"z":-0.1},{"m":4,"c":82,"z":0.3},{"m":4,"c":83,"z":-0.3},{"m":4,"c":84,"z":0.1},{"m":4,"c":85,"z":0.3},{"m":4,"c":86,"z":-0.4},{"m":4,"c":87,"z":-0.6},{"m":4,"c":88,"z":-1.8},{"m":4,"c":89,"z":-1.1},{"m":4,"c":90,"z":-0.2},{"m":4,"c":91,"z":-1.3},{"m":4,"c":92,"z":0.7},{"m":4,"c":93,"z":-0.4},{"m":4,"c":94,"z":-0.7},{"m":4,"c":95,"z":-1.4},{"m":4,"c":96,"z":0.1},{"m":4,"c":97,"z":-0.9},{"m":4,"c":98,"z":-0.7},{"m":4,"c":99,"z":-0.4},{"m":4,"c":100,"z":1.6},{"m":4,"c":101,"z":1.5},{"m":4,"c":102,"z":-0.4},{"m":4,"c":103,"z":0},{"m":4,"c":104,"z":-0.4},{"m":4,"c":105,"z":1.1},
{"m":19,"c":0,"z":-1.6},{"m":19,"c":1,"z":0.6},{"m":19,"c":2,"z":1.9},{"m":19,"c":3,"z":0.6},{"m":19,"c":4,"z":-0.1},{"m":19,"c":5,"z":-0.4},{"m":19,"c":6,"z":0.4},{"m":19,"c":7,"z":2},{"m":19,"c":8,"z":-0.9},{"m":19,"c":9,"z":0.5},{"m":19,"c":10,"z":-2},{"m":19,"c":11,"z":0.1},{"m":19,"c":12,"z":0.7},{"m":19,"c":13,"z":-0.3},{"m":19,"c":14,"z":0.3},{"m":19,"c":15,"z":1.1},{"m":19,"c":16,"z":-0.2},{"m":19,"c":17,"z":1.4},{"m":19,"c":18,"z":0.9},{"m":19,"c":19,"z":1.4},{"m":19,"c":20,"z":-0.3},{"m":19,"c":21,"z":0.6},{"m":19,"c":22,"z":0},{"m":19,"c":23,"z":1.2},{"m":19,"c":24,"z":-0.4},{"m":19,"c":25,"z":0.3},{"m":19,"c":26,"z":0.3},{"m":19,"c":27,"z":-0.3},{"m":19,"c":28,"z":1.2},{"m":19,"c":29,"z":-0.5},{"m":19,"c":30,"z":0.7},{"m":19,"c":31,"z":0.3},{"m":19,"c":32,"z":-1.8},{"m":19,"c":33,"z":-0.9},{"m":19,"c":34,"z":-0.3},{"m":19,"c":35,"z":-0.1},{"m":19,"c":36,"z":0},{"m":19,"c":37,"z":-1.6},{"m":19,"c":38,"z":0},{"m":19,"c":39,"z":0.5},{"m":19,"c":40,"z":-1.8},{"m":19,"c":41,"z":0.1},{"m":19,"c":42,"z":1.7},{"m":19,"c":43,"z":-0.1},{"m":19,"c":44,"z":1},{"m":19,"c":45,"z":-0.4},{"m":19,"c":46,"z":0.5},{"m":19,"c":47,"z":-0.6},{"m":19,"c":48,"z":0.1},{"m":19,"c":49,"z":0.3},{"m":19,"c":50,"z":-0.5},{"m":19,"c":51,"z":0.2},{"m":19,"c":52,"z":-0.4},{"m":19,"c":53,"z":0.3},{"m":19,"c":54,"z":-0.1},{"m":19,"c":55,"z":-0.2},{"m":19,"c":56,"z":-0.3},{"m":19,"c":57,"z":-0.2},{"m":19,"c":58,"z":-0.1},{"m":19,"c":59,"z":-1.4},{"m":19,"c":60,"z":-0.2},{"m":19,"c":61,"z":0.1},{"m":19,"c":62,"z":-0.2},{"m":19,"c":63,"z":0.8},{"m":19,"c":64,"z":-1.8},{"m":19,"c":65,"z":-0.5},{"m":19,"c":66,"z":-0.6},{"m":19,"c":67,"z":-0.1},{"m":19,"c":68,"z":-0.4},{"m":19,"c":69,"z":-0.7},{"m":19,"c":70,"z":-0.1},{"m":19,"c":71,"z":0.7},{"m":19,"c":72,"z":-1.2},{"m":19,"c":73,"z":0.9},{"m":19,"c":74,"z":2},{"m":19,"c":75,"z":-0.5},{"m":19,"c":76,"z":-0.9},{"m":19,"c":77,"z":-1.2},{"m":19,"c":78,"z":0.1},{"m":19,"c":79,"z":0.8},{"m":19,"c":80,"z":-0.7},{"m":19,"c":81,"z":-1},{"m":19,"c":82,"z":-2},{"m":19,"c":83,"z":0.3},{"m":19,"c":84,"z":0.1},{"m":19,"c":85,"z":1.7},{"m":19,"c":86,"z":0.3},{"m":19,"c":87,"z":0},{"m":19,"c":88,"z":-0.6},{"m":19,"c":89,"z":0},{"m":19,"c":90,"z":1.5},{"m":19,"c":91,"z":-1.1},{"m":19,"c":92,"z":-0.3},{"m":19,"c":93,"z":-0.7},{"m":19,"c":94,"z":-0.2},{"m":19,"c":95,"z":-1.8},{"m":19,"c":96,"z":-1},{"m":19,"c":97,"z":-0.2},{"m":19,"c":98,"z":0.8},{"m":19,"c":99,"z":-0.6},{"m":19,"c":100,"z":-0.5},{"m":19,"c":101,"z":-0.6},{"m":19,"c":102,"z":-0.4},{"m":19,"c":103,"z":1.6},{"m":19,"c":104,"z":0.4},{"m":19,"c":105,"z":1.6},
{"m":18,"c":0,"z":-0.6},{"m":18,"c":1,"z":1},{"m":18,"c":2,"z":0.7},{"m":18,"c":3,"z":0.3},{"m":18,"c":4,"z":1.3},{"m":18,"c":5,"z":0.8},{"m":18,"c":6,"z":0.3},{"m":18,"c":7,"z":-0.7},{"m":18,"c":8,"z":-0.2},{"m":18,"c":9,"z":-1.6},{"m":18,"c":10,"z":2},{"m":18,"c":11,"z":1.3},{"m":18,"c":12,"z":-1.1},{"m":18,"c":13,"z":-0.9},{"m":18,"c":14,"z":-1},{"m":18,"c":15,"z":1.2},{"m":18,"c":16,"z":0.2},{"m":18,"c":17,"z":2},{"m":18,"c":18,"z":1.9},{"m":18,"c":19,"z":0.6},{"m":18,"c":20,"z":0.4},{"m":18,"c":21,"z":1},{"m":18,"c":22,"z":0.3},{"m":18,"c":23,"z":1.2},{"m":18,"c":24,"z":2},{"m":18,"c":25,"z":0.3},{"m":18,"c":26,"z":0.2},{"m":18,"c":27,"z":1.1},{"m":18,"c":28,"z":1},{"m":18,"c":29,"z":0.3},{"m":18,"c":30,"z":0.6},{"m":18,"c":31,"z":-0.1},{"m":18,"c":32,"z":-0.9},{"m":18,"c":33,"z":-0.4},{"m":18,"c":34,"z":-0.9},{"m":18,"c":35,"z":-0.4},{"m":18,"c":36,"z":-2},{"m":18,"c":37,"z":-1.5},{"m":18,"c":38,"z":-0.8},{"m":18,"c":39,"z":-0.4},{"m":18,"c":40,"z":-0.8},{"m":18,"c":41,"z":0.2},{"m":18,"c":42,"z":0.9},{"m":18,"c":43,"z":-0.3},{"m":18,"c":44,"z":0.1},{"m":18,"c":45,"z":-0.9},{"m":18,"c":46,"z":0.8},{"m":18,"c":47,"z":0.3},{"m":18,"c":48,"z":0.3},{"m":18,"c":49,"z":0.6},{"m":18,"c":50,"z":-1.7},{"m":18,"c":51,"z":-0.9},{"m":18,"c":52,"z":-0.3},{"m":18,"c":53,"z":0.1},{"m":18,"c":54,"z":-1},{"m":18,"c":55,"z":-0.4},{"m":18,"c":56,"z":-0.1},{"m":18,"c":57,"z":-0.3},{"m":18,"c":58,"z":0.1},{"m":18,"c":59,"z":0.9},{"m":18,"c":60,"z":0.6},{"m":18,"c":61,"z":-0.1},{"m":18,"c":62,"z":-0.4},{"m":18,"c":63,"z":0.6},{"m":18,"c":64,"z":-0.6},{"m":18,"c":65,"z":-0.2},{"m":18,"c":66,"z":-0.2},{"m":18,"c":67,"z":-0.4},{"m":18,"c":68,"z":1.9},{"m":18,"c":69,"z":0.9},{"m":18,"c":70,"z":-0.5},{"m":18,"c":71,"z":-1.2},{"m":18,"c":72,"z":-0.6},{"m":18,"c":73,"z":-0.6},{"m":18,"c":74,"z":-1.2},{"m":18,"c":75,"z":-0.4},{"m":18,"c":76,"z":-0.5},{"m":18,"c":77,"z":-1.1},{"m":18,"c":78,"z":-1},{"m":18,"c":79,"z":-0.4},{"m":18,"c":80,"z":-0.7},{"m":18,"c":81,"z":-0.5},{"m":18,"c":82,"z":-1.2},{"m":18,"c":83,"z":-0.1},{"m":18,"c":84,"z":0.8},{"m":18,"c":85,"z":0.6},{"m":18,"c":86,"z":0},{"m":18,"c":87,"z":-0.1},{"m":18,"c":88,"z":0.2},{"m":18,"c":89,"z":0},{"m":18,"c":90,"z":-1.2},{"m":18,"c":91,"z":-1.4},{"m":18,"c":92,"z":1.8},{"m":18,"c":93,"z":-0.1},{"m":18,"c":94,"z":0.6},{"m":18,"c":95,"z":-1.8},{"m":18,"c":96,"z":0.1},{"m":18,"c":97,"z":0.2},{"m":18,"c":98,"z":-0.6},{"m":18,"c":99,"z":-1.2},{"m":18,"c":100,"z":2},{"m":18,"c":101,"z":0.5},{"m":18,"c":102,"z":0.1},{"m":18,"c":103,"z":-0.7},{"m":18,"c":104,"z":-0.7},{"m":18,"c":105,"z":0},
{"m":30,"c":0,"z":-0.5},{"m":30,"c":1,"z":1.3},{"m":30,"c":2,"z":2},{"m":30,"c":3,"z":-0.7},{"m":30,"c":4,"z":-0.7},{"m":30,"c":5,"z":0.2},{"m":30,"c":6,"z":-0.6},{"m":30,"c":7,"z":1},{"m":30,"c":8,"z":0.2},{"m":30,"c":9,"z":0.4},{"m":30,"c":10,"z":0.2},{"m":30,"c":11,"z":0},{"m":30,"c":12,"z":1.5},{"m":30,"c":13,"z":-1.2},{"m":30,"c":14,"z":-0.1},{"m":30,"c":15,"z":1.5},{"m":30,"c":16,"z":0},{"m":30,"c":17,"z":-0.6},{"m":30,"c":18,"z":2},{"m":30,"c":19,"z":2},{"m":30,"c":20,"z":0.8},{"m":30,"c":21,"z":-0.7},{"m":30,"c":22,"z":0.4},{"m":30,"c":23,"z":1.5},{"m":30,"c":24,"z":0},{"m":30,"c":25,"z":-0.8},{"m":30,"c":26,"z":-0.5},{"m":30,"c":27,"z":-0.1},{"m":30,"c":28,"z":-0.6},{"m":30,"c":29,"z":0},{"m":30,"c":30,"z":-0.4},{"m":30,"c":31,"z":-0.2},{"m":30,"c":32,"z":-0.6},{"m":30,"c":33,"z":-1.1},{"m":30,"c":34,"z":-0.5},{"m":30,"c":35,"z":0},{"m":30,"c":36,"z":-2},{"m":30,"c":37,"z":-1.2},{"m":30,"c":38,"z":0.8},{"m":30,"c":39,"z":-0.3},{"m":30,"c":40,"z":-0.2},{"m":30,"c":41,"z":1.1},{"m":30,"c":42,"z":2},{"m":30,"c":43,"z":-0.4},{"m":30,"c":44,"z":-0.3},{"m":30,"c":45,"z":1.8},{"m":30,"c":46,"z":-0.8},{"m":30,"c":47,"z":-0.7},{"m":30,"c":48,"z":0.1},{"m":30,"c":49,"z":-1.2},{"m":30,"c":50,"z":-0.1},{"m":30,"c":51,"z":-0.9},{"m":30,"c":52,"z":1.1},{"m":30,"c":53,"z":-0.4},{"m":30,"c":54,"z":1},{"m":30,"c":55,"z":1.2},{"m":30,"c":56,"z":0},{"m":30,"c":57,"z":-0.7},{"m":30,"c":58,"z":2},{"m":30,"c":59,"z":1.6},{"m":30,"c":60,"z":2},{"m":30,"c":61,"z":0.3},{"m":30,"c":62,"z":-0.1},{"m":30,"c":63,"z":0.6},{"m":30,"c":64,"z":0.2},{"m":30,"c":65,"z":-0.3},{"m":30,"c":66,"z":-0.6},{"m":30,"c":67,"z":-0.6},{"m":30,"c":68,"z":0.4},{"m":30,"c":69,"z":-0.1},{"m":30,"c":70,"z":-1.1},{"m":30,"c":71,"z":-1.6},{"m":30,"c":72,"z":-0.4},{"m":30,"c":73,"z":-0.6},{"m":30,"c":74,"z":-0.9},{"m":30,"c":75,"z":0},{"m":30,"c":76,"z":-1.3},{"m":30,"c":77,"z":-1.4},{"m":30,"c":78,"z":-0.2},{"m":30,"c":79,"z":-0.3},{"m":30,"c":80,"z":-1.5},{"m":30,"c":81,"z":0.3},{"m":30,"c":82,"z":0},{"m":30,"c":83,"z":-0.6},{"m":30,"c":84,"z":-0.8},{"m":30,"c":85,"z":-0.9},{"m":30,"c":86,"z":0.9},{"m":30,"c":87,"z":0.6},{"m":30,"c":88,"z":0.6},{"m":30,"c":89,"z":-0.9},{"m":30,"c":90,"z":-0.1},{"m":30,"c":91,"z":0},{"m":30,"c":92,"z":-1.1},{"m":30,"c":93,"z":-0.8},{"m":30,"c":94,"z":0.8},{"m":30,"c":95,"z":-1.4},{"m":30,"c":96,"z":-0.2},{"m":30,"c":97,"z":-0.6},{"m":30,"c":98,"z":0.1},{"m":30,"c":99,"z":-1.4},{"m":30,"c":100,"z":1.7},{"m":30,"c":101,"z":0.9},{"m":30,"c":102,"z":0.3},{"m":30,"c":103,"z":-0.4},{"m":30,"c":104,"z":-0.1},{"m":30,"c":105,"z":-0.9},
{"m":8,"c":0,"z":-0.9},{"m":8,"c":1,"z":0.8},{"m":8,"c":2,"z":1},{"m":8,"c":3,"z":0.3},{"m":8,"c":4,"z":0.5},{"m":8,"c":5,"z":0.8},{"m":8,"c":6,"z":0.3},{"m":8,"c":7,"z":-1.1},{"m":8,"c":8,"z":-0.2},{"m":8,"c":9,"z":-0.4},{"m":8,"c":10,"z":2},{"m":8,"c":11,"z":0.5},{"m":8,"c":12,"z":-0.5},{"m":8,"c":13,"z":-0.9},{"m":8,"c":14,"z":-1},{"m":8,"c":15,"z":0.9},{"m":8,"c":16,"z":0.8},{"m":8,"c":17,"z":0.7},{"m":8,"c":18,"z":0.5},{"m":8,"c":19,"z":-0.1},{"m":8,"c":20,"z":0.7},{"m":8,"c":21,"z":0.2},{"m":8,"c":22,"z":-0.9},{"m":8,"c":23,"z":-0.3},{"m":8,"c":24,"z":0.3},{"m":8,"c":25,"z":2},{"m":8,"c":26,"z":-0.5},{"m":8,"c":27,"z":1.6},{"m":8,"c":28,"z":-0.4},{"m":8,"c":29,"z":1.1},{"m":8,"c":30,"z":0.5},{"m":8,"c":31,"z":0.5},{"m":8,"c":32,"z":-1.6},{"m":8,"c":33,"z":-0.3},{"m":8,"c":34,"z":-0.1},{"m":8,"c":35,"z":-0.6},{"m":8,"c":36,"z":-0.1},{"m":8,"c":37,"z":-1.2},{"m":8,"c":38,"z":-0.9},{"m":8,"c":39,"z":0.2},{"m":8,"c":40,"z":-1},{"m":8,"c":41,"z":-0.1},{"m":8,"c":42,"z":0.6},{"m":8,"c":43,"z":-0.3},{"m":8,"c":44,"z":1.5},{"m":8,"c":45,"z":-1.2},{"m":8,"c":46,"z":0.8},{"m":8,"c":47,"z":1.8},{"m":8,"c":48,"z":-0.4},{"m":8,"c":49,"z":-0.5},{"m":8,"c":50,"z":-0.7},{"m":8,"c":51,"z":0.6},{"m":8,"c":52,"z":-0.6},{"m":8,"c":53,"z":0.5},{"m":8,"c":54,"z":0.9},{"m":8,"c":55,"z":-0.4},{"m":8,"c":56,"z":-1},{"m":8,"c":57,"z":-0.8},{"m":8,"c":58,"z":0.9},{"m":8,"c":59,"z":2},{"m":8,"c":60,"z":1.6},{"m":8,"c":61,"z":-0.9},{"m":8,"c":62,"z":-1.1},{"m":8,"c":63,"z":-1.6},{"m":8,"c":64,"z":-0.6},{"m":8,"c":65,"z":-0.5},{"m":8,"c":66,"z":-0.2},{"m":8,"c":67,"z":0.2},{"m":8,"c":68,"z":0.1},{"m":8,"c":69,"z":0.4},{"m":8,"c":70,"z":-0.6},{"m":8,"c":71,"z":-1.2},{"m":8,"c":72,"z":-2},{"m":8,"c":73,"z":-1.7},{"m":8,"c":74,"z":-1.3},{"m":8,"c":75,"z":-0.8},{"m":8,"c":76,"z":-0.7},{"m":8,"c":77,"z":-0.9},{"m":8,"c":78,"z":0.1},{"m":8,"c":79,"z":0.5},{"m":8,"c":80,"z":-0.9},{"m":8,"c":81,"z":-0.1},{"m":8,"c":82,"z":-1.1},{"m":8,"c":83,"z":0.3},{"m":8,"c":84,"z":0.2},{"m":8,"c":85,"z":1.4},{"m":8,"c":86,"z":-0.2},{"m":8,"c":87,"z":1.3},{"m":8,"c":88,"z":-0.2},{"m":8,"c":89,"z":-0.8},{"m":8,"c":90,"z":-0.6},{"m":8,"c":91,"z":-0.3},{"m":8,"c":92,"z":1.5},{"m":8,"c":93,"z":0.5},{"m":8,"c":94,"z":-1},{"m":8,"c":95,"z":-1.8},{"m":8,"c":96,"z":1.3},{"m":8,"c":97,"z":0.2},{"m":8,"c":98,"z":0.1},{"m":8,"c":99,"z":-0.9},{"m":8,"c":100,"z":2},{"m":8,"c":101,"z":-0.4},{"m":8,"c":102,"z":-0.6},{"m":8,"c":103,"z":0.6},{"m":8,"c":104,"z":-0.1},{"m":8,"c":105,"z":0.2},
{"m":15,"c":0,"z":-1.3},{"m":15,"c":1,"z":-0.5},{"m":15,"c":2,"z":1.2},{"m":15,"c":3,"z":-0.5},{"m":15,"c":4,"z":-0.2},{"m":15,"c":5,"z":1.1},{"m":15,"c":6,"z":-1},{"m":15,"c":7,"z":-0.1},{"m":15,"c":8,"z":0.4},{"m":15,"c":9,"z":1},{"m":15,"c":10,"z":1.6},{"m":15,"c":11,"z":1.2},{"m":15,"c":12,"z":0.2},{"m":15,"c":13,"z":-0.3},{"m":15,"c":14,"z":0.4},{"m":15,"c":15,"z":1.5},{"m":15,"c":16,"z":0.6},{"m":15,"c":17,"z":0.4},{"m":15,"c":18,"z":2},{"m":15,"c":19,"z":2},{"m":15,"c":20,"z":0.3},{"m":15,"c":21,"z":-0.9},{"m":15,"c":22,"z":-0.2},{"m":15,"c":23,"z":1.6},{"m":15,"c":24,"z":1},{"m":15,"c":25,"z":-0.1},{"m":15,"c":26,"z":1.9},{"m":15,"c":27,"z":1},{"m":15,"c":28,"z":0.9},{"m":15,"c":29,"z":-0.3},{"m":15,"c":30,"z":-0.9},{"m":15,"c":31,"z":-0.1},{"m":15,"c":32,"z":-1.2},{"m":15,"c":33,"z":-1},{"m":15,"c":34,"z":-0.8},{"m":15,"c":35,"z":0.1},{"m":15,"c":36,"z":-2},{"m":15,"c":37,"z":-1.3},{"m":15,"c":38,"z":1},{"m":15,"c":39,"z":-0.7},{"m":15,"c":40,"z":-0.6},{"m":15,"c":41,"z":1},{"m":15,"c":42,"z":1},{"m":15,"c":43,"z":0.1},{"m":15,"c":44,"z":0.1},{"m":15,"c":45,"z":0.2},{"m":15,"c":46,"z":0.2},{"m":15,"c":47,"z":0.3},{"m":15,"c":48,"z":0.6},{"m":15,"c":49,"z":-0.1},{"m":15,"c":50,"z":-0.2},{"m":15,"c":51,"z":-0.3},{"m":15,"c":52,"z":0.8},{"m":15,"c":53,"z":-0.4},{"m":15,"c":54,"z":2},{"m":15,"c":55,"z":-0.5},{"m":15,"c":56,"z":0.2},{"m":15,"c":57,"z":0},{"m":15,"c":58,"z":-0.4},{"m":15,"c":59,"z":1},{"m":15,"c":60,"z":0.5},{"m":15,"c":61,"z":0.2},{"m":15,"c":62,"z":-0.1},{"m":15,"c":63,"z":-0.7},{"m":15,"c":64,"z":-1},{"m":15,"c":65,"z":-1.2},{"m":15,"c":66,"z":-1},{"m":15,"c":67,"z":0.8},{"m":15,"c":68,"z":-1.2},{"m":15,"c":69,"z":-0.1},{"m":15,"c":70,"z":-0.8},{"m":15,"c":71,"z":0.3},{"m":15,"c":72,"z":-1},{"m":15,"c":73,"z":-0.1},{"m":15,"c":74,"z":-0.3},{"m":15,"c":75,"z":-0.6},{"m":15,"c":76,"z":-1.1},{"m":15,"c":77,"z":-1.7},{"m":15,"c":78,"z":0.5},{"m":15,"c":79,"z":1.3},{"m":15,"c":80,"z":-1.3},{"m":15,"c":81,"z":1.2},{"m":15,"c":82,"z":-1.5},{"m":15,"c":83,"z":-0.9},{"m":15,"c":84,"z":-1},{"m":15,"c":85,"z":-0.1},{"m":15,"c":86,"z":0.4},{"m":15,"c":87,"z":1},{"m":15,"c":88,"z":-0.1},{"m":15,"c":89,"z":0},{"m":15,"c":90,"z":-0.1},{"m":15,"c":91,"z":-1.2},{"m":15,"c":92,"z":-0.8},{"m":15,"c":93,"z":0.1},{"m":15,"c":94,"z":-0.2},{"m":15,"c":95,"z":-1.9},{"m":15,"c":96,"z":-1.4},{"m":15,"c":97,"z":-1.3},{"m":15,"c":98,"z":1},{"m":15,"c":99,"z":-1.2},{"m":15,"c":100,"z":-0.8},{"m":15,"c":101,"z":-0.1},{"m":15,"c":102,"z":0.1},{"m":15,"c":103,"z":1.2},{"m":15,"c":104,"z":1},{"m":15,"c":105,"z":0.2},
{"m":2,"c":0,"z":-0.4},{"m":2,"c":1,"z":-0.1},{"m":2,"c":2,"z":1.4},{"m":2,"c":3,"z":0.5},{"m":2,"c":4,"z":0.5},{"m":2,"c":5,"z":-0.3},{"m":2,"c":6,"z":-0.2},{"m":2,"c":7,"z":-0.3},{"m":2,"c":8,"z":-0.2},{"m":2,"c":9,"z":0},{"m":2,"c":10,"z":-1.4},{"m":2,"c":11,"z":-0.8},{"m":2,"c":12,"z":-1.2},{"m":2,"c":13,"z":0},{"m":2,"c":14,"z":-0.6},{"m":2,"c":15,"z":0.5},{"m":2,"c":16,"z":1.4},{"m":2,"c":17,"z":1.9},{"m":2,"c":18,"z":-0.9},{"m":2,"c":19,"z":-0.3},{"m":2,"c":20,"z":-0.4},{"m":2,"c":21,"z":0.1},{"m":2,"c":22,"z":-0.1},{"m":2,"c":23,"z":-0.6},{"m":2,"c":24,"z":0.1},{"m":2,"c":25,"z":-0.2},{"m":2,"c":26,"z":-0.6},{"m":2,"c":27,"z":2},{"m":2,"c":28,"z":0.7},{"m":2,"c":29,"z":-0.3},{"m":2,"c":30,"z":0.3},{"m":2,"c":31,"z":1},{"m":2,"c":32,"z":-1},{"m":2,"c":33,"z":0.9},{"m":2,"c":34,"z":-0.6},{"m":2,"c":35,"z":-0.1},{"m":2,"c":36,"z":-1.6},{"m":2,"c":37,"z":0.7},{"m":2,"c":38,"z":-1.1},{"m":2,"c":39,"z":1.3},{"m":2,"c":40,"z":-1.4},{"m":2,"c":41,"z":0.8},{"m":2,"c":42,"z":1},{"m":2,"c":43,"z":0.2},{"m":2,"c":44,"z":1.3},{"m":2,"c":45,"z":-0.8},{"m":2,"c":46,"z":2},{"m":2,"c":47,"z":2},{"m":2,"c":48,"z":0.6},{"m":2,"c":49,"z":-0.1},{"m":2,"c":50,"z":-0.2},{"m":2,"c":51,"z":1.5},{"m":2,"c":52,"z":0.1},{"m":2,"c":53,"z":0},{"m":2,"c":54,"z":1.1},{"m":2,"c":55,"z":0.3},{"m":2,"c":56,"z":0.4},{"m":2,"c":57,"z":-1.3},{"m":2,"c":58,"z":0},{"m":2,"c":59,"z":0.1},{"m":2,"c":60,"z":-0.6},{"m":2,"c":61,"z":0.3},{"m":2,"c":62,"z":-0.7},{"m":2,"c":63,"z":-0.4},{"m":2,"c":64,"z":0.8},{"m":2,"c":65,"z":-0.5},{"m":2,"c":66,"z":0},{"m":2,"c":67,"z":-0.9},{"m":2,"c":68,"z":-0.9},{"m":2,"c":69,"z":-0.8},{"m":2,"c":70,"z":2},{"m":2,"c":71,"z":-0.9},{"m":2,"c":72,"z":-1.7},{"m":2,"c":73,"z":-1},{"m":2,"c":74,"z":-1.2},{"m":2,"c":75,"z":0.1},{"m":2,"c":76,"z":0.3},{"m":2,"c":77,"z":0.2},{"m":2,"c":78,"z":-0.4},{"m":2,"c":79,"z":0.8},{"m":2,"c":80,"z":-1.1},{"m":2,"c":81,"z":0.4},{"m":2,"c":82,"z":-0.3},{"m":2,"c":83,"z":0.2},{"m":2,"c":84,"z":-0.3},{"m":2,"c":85,"z":2},{"m":2,"c":86,"z":1.5},{"m":2,"c":87,"z":-1.2},{"m":2,"c":88,"z":-1.6},{"m":2,"c":89,"z":-1.2},{"m":2,"c":90,"z":-0.5},{"m":2,"c":91,"z":-0.9},{"m":2,"c":92,"z":-1.2},{"m":2,"c":93,"z":0.1},{"m":2,"c":94,"z":0.2},{"m":2,"c":95,"z":0.1},{"m":2,"c":96,"z":-0.4},{"m":2,"c":97,"z":-0.5},{"m":2,"c":98,"z":0.1},{"m":2,"c":99,"z":-0.1},{"m":2,"c":100,"z":-0.6},{"m":2,"c":101,"z":-1},{"m":2,"c":102,"z":0.1},{"m":2,"c":103,"z":-0.2},{"m":2,"c":104,"z":-0.9},{"m":2,"c":105,"z":0.2},
{"m":22,"c":0,"z":-0.8},{"m":22,"c":1,"z":0.6},{"m":22,"c":2,"z":2},{"m":22,"c":3,"z":0.5},{"m":22,"c":4,"z":-0.2},{"m":22,"c":5,"z":0.3},{"m":22,"c":6,"z":-0.4},{"m":22,"c":7,"z":1.6},{"m":22,"c":8,"z":-0.3},{"m":22,"c":9,"z":-1},{"m":22,"c":10,"z":-0.7},{"m":22,"c":11,"z":-0.7},{"m":22,"c":12,"z":-0.6},{"m":22,"c":13,"z":-1.1},{"m":22,"c":14,"z":0.9},{"m":22,"c":15,"z":2},{"m":22,"c":16,"z":-1.1},{"m":22,"c":17,"z":0.1},{"m":22,"c":18,"z":0.1},{"m":22,"c":19,"z":0.1},{"m":22,"c":20,"z":-1},{"m":22,"c":21,"z":0.1},{"m":22,"c":22,"z":0},{"m":22,"c":23,"z":-0.5},{"m":22,"c":24,"z":0.8},{"m":22,"c":25,"z":-0.6},{"m":22,"c":26,"z":-1.2},{"m":22,"c":27,"z":-0.3},{"m":22,"c":28,"z":-0.2},{"m":22,"c":29,"z":0},{"m":22,"c":30,"z":1},{"m":22,"c":31,"z":0.3},{"m":22,"c":32,"z":-0.8},{"m":22,"c":33,"z":-0.9},{"m":22,"c":34,"z":-0.8},{"m":22,"c":35,"z":2},{"m":22,"c":36,"z":-0.4},{"m":22,"c":37,"z":-2},{"m":22,"c":38,"z":-0.2},{"m":22,"c":39,"z":0.3},{"m":22,"c":40,"z":0},{"m":22,"c":41,"z":1.1},{"m":22,"c":42,"z":1.4},{"m":22,"c":43,"z":1.4},{"m":22,"c":44,"z":-0.1},{"m":22,"c":45,"z":-0.2},{"m":22,"c":46,"z":-0.2},{"m":22,"c":47,"z":-0.7},{"m":22,"c":48,"z":1},{"m":22,"c":49,"z":1.8},{"m":22,"c":50,"z":-2},{"m":22,"c":51,"z":-0.8},{"m":22,"c":52,"z":1.6},{"m":22,"c":53,"z":0.3},{"m":22,"c":54,"z":0.9},{"m":22,"c":55,"z":-1.2},{"m":22,"c":56,"z":0.8},{"m":22,"c":57,"z":1.2},{"m":22,"c":58,"z":0.3},{"m":22,"c":59,"z":-0.1},{"m":22,"c":60,"z":0.6},{"m":22,"c":61,"z":0.1},{"m":22,"c":62,"z":-0.2},{"m":22,"c":63,"z":1.4},{"m":22,"c":64,"z":-0.8},{"m":22,"c":65,"z":-1.3},{"m":22,"c":66,"z":-0.9},{"m":22,"c":67,"z":-1.2},{"m":22,"c":68,"z":0.6},{"m":22,"c":69,"z":1.6},{"m":22,"c":70,"z":-1},{"m":22,"c":71,"z":-1.1},{"m":22,"c":72,"z":-1.7},{"m":22,"c":73,"z":0.9},{"m":22,"c":74,"z":1.8},{"m":22,"c":75,"z":0.4},{"m":22,"c":76,"z":0},{"m":22,"c":77,"z":-0.5},{"m":22,"c":78,"z":0.6},{"m":22,"c":79,"z":0.1},{"m":22,"c":80,"z":-0.2},{"m":22,"c":81,"z":-0.1},{"m":22,"c":82,"z":-0.3},{"m":22,"c":83,"z":1.8},{"m":22,"c":84,"z":0.6},{"m":22,"c":85,"z":-0.8},{"m":22,"c":86,"z":1.8},{"m":22,"c":87,"z":-0.5},{"m":22,"c":88,"z":-1.6},{"m":22,"c":89,"z":-0.3},{"m":22,"c":90,"z":0.1},{"m":22,"c":91,"z":-1.4},{"m":22,"c":92,"z":-0.8},{"m":22,"c":93,"z":-0.4},{"m":22,"c":94,"z":0.9},{"m":22,"c":95,"z":-2},{"m":22,"c":96,"z":-1.4},{"m":22,"c":97,"z":-0.2},{"m":22,"c":98,"z":-1.1},{"m":22,"c":99,"z":-0.7},{"m":22,"c":100,"z":-0.4},{"m":22,"c":101,"z":1.7},{"m":22,"c":102,"z":1},{"m":22,"c":103,"z":-0.1},{"m":22,"c":104,"z":-0.9},{"m":22,"c":105,"z":0.1},
{"m":27,"c":0,"z":-0.8},{"m":27,"c":1,"z":0.6},{"m":27,"c":2,"z":0.9},{"m":27,"c":3,"z":-0.6},{"m":27,"c":4,"z":0.2},{"m":27,"c":5,"z":0.4},{"m":27,"c":6,"z":0.5},{"m":27,"c":7,"z":0.3},{"m":27,"c":8,"z":-0.5},{"m":27,"c":9,"z":-0.1},{"m":27,"c":10,"z":0.9},{"m":27,"c":11,"z":0.8},{"m":27,"c":12,"z":-0.6},{"m":27,"c":13,"z":-0.6},{"m":27,"c":14,"z":0.2},{"m":27,"c":15,"z":0.1},{"m":27,"c":16,"z":-0.3},{"m":27,"c":17,"z":-0.1},{"m":27,"c":18,"z":0.2},{"m":27,"c":19,"z":0.5},{"m":27,"c":20,"z":1.1},{"m":27,"c":21,"z":0.4},{"m":27,"c":22,"z":-0.5},{"m":27,"c":23,"z":0.1},{"m":27,"c":24,"z":1.3},{"m":27,"c":25,"z":1},{"m":27,"c":26,"z":-0.7},{"m":27,"c":27,"z":0.1},{"m":27,"c":28,"z":0.6},{"m":27,"c":29,"z":0.1},{"m":27,"c":30,"z":0.8},{"m":27,"c":31,"z":1.1},{"m":27,"c":32,"z":-0.5},{"m":27,"c":33,"z":-0.9},{"m":27,"c":34,"z":-0.3},{"m":27,"c":35,"z":-0.2},{"m":27,"c":36,"z":-1.3},{"m":27,"c":37,"z":-1.2},{"m":27,"c":38,"z":-0.6},{"m":27,"c":39,"z":2},{"m":27,"c":40,"z":-1.6},{"m":27,"c":41,"z":0.4},{"m":27,"c":42,"z":0.1},{"m":27,"c":43,"z":1.6},{"m":27,"c":44,"z":-0.4},{"m":27,"c":45,"z":-0.9},{"m":27,"c":46,"z":0.2},{"m":27,"c":47,"z":-0.5},{"m":27,"c":48,"z":-0.6},{"m":27,"c":49,"z":-0.6},{"m":27,"c":50,"z":-1},{"m":27,"c":51,"z":-0.9},{"m":27,"c":52,"z":-0.3},{"m":27,"c":53,"z":-0.3},{"m":27,"c":54,"z":0.8},{"m":27,"c":55,"z":-1.6},{"m":27,"c":56,"z":-0.9},{"m":27,"c":57,"z":-1},{"m":27,"c":58,"z":2},{"m":27,"c":59,"z":0.4},{"m":27,"c":60,"z":0},{"m":27,"c":61,"z":-1.1},{"m":27,"c":62,"z":-0.7},{"m":27,"c":63,"z":2},{"m":27,"c":64,"z":0.2},{"m":27,"c":65,"z":-1.8},{"m":27,"c":66,"z":-0.2},{"m":27,"c":67,"z":1.3},{"m":27,"c":68,"z":0.2},{"m":27,"c":69,"z":0.8},{"m":27,"c":70,"z":-1},{"m":27,"c":71,"z":-0.3},{"m":27,"c":72,"z":-1.1},{"m":27,"c":73,"z":-0.1},{"m":27,"c":74,"z":1},{"m":27,"c":75,"z":2},{"m":27,"c":76,"z":0.1},{"m":27,"c":77,"z":-0.8},{"m":27,"c":78,"z":-0.2},{"m":27,"c":79,"z":0.2},{"m":27,"c":80,"z":-1.1},{"m":27,"c":81,"z":-0.1},{"m":27,"c":82,"z":-0.3},{"m":27,"c":83,"z":-0.4},{"m":27,"c":84,"z":-0.1},{"m":27,"c":85,"z":-0.1},{"m":27,"c":86,"z":-0.2},{"m":27,"c":87,"z":-0.1},{"m":27,"c":88,"z":-0.2},{"m":27,"c":89,"z":0.1},{"m":27,"c":90,"z":-0.1},{"m":27,"c":91,"z":-0.6},{"m":27,"c":92,"z":0.2},{"m":27,"c":93,"z":-0.1},{"m":27,"c":94,"z":-0.2},{"m":27,"c":95,"z":-1.6},{"m":27,"c":96,"z":-1.1},{"m":27,"c":97,"z":-0.3},{"m":27,"c":98,"z":-0.1},{"m":27,"c":99,"z":-0.4},{"m":27,"c":100,"z":0.2},{"m":27,"c":101,"z":0.9},{"m":27,"c":102,"z":-0.1},{"m":27,"c":103,"z":-0.1},{"m":27,"c":104,"z":-0.8},{"m":27,"c":105,"z":0.1}
]},"mark":{"type":"rect","stroke":"white","strokeWidth":3},"encoding":{"x":{"field":"c","type":"nominal","title":"Cell Type","scale":{"domain":[0,1,2,3,4,5,6,7,8,9,10,11,12,13,14,15,16,17,18,19,20,21,22,23,24,25,26,27,28,29,30,31,32,33,34,35,36,37,38,39,40,41,42,43,44,45,46,47,48,49,50,51,52,53,54,55,56,57,58,59,60,61,62,63,64,65,66,67,68,69,70,71,72,73,74,75,76,77,78,79,80,81,82,83,84,85,86,87,88,89,90,91,92,93,94,95,96,97,98,99,100,101,102,103,104,105],"paddingInner":0,"paddingOuter":0},"axis":{"values":[0,2,4,6,8,10,12,14,16,18,20,22,24,26,28,30,32,34,36,38,40,42,44,46,48,50,52,54,56,58,60,62,64,66,68,70,72,74,76,78,80,82,84,86,88,90,92,94,96,98,100,102,104],"labelExpr":"['Acinar cells','Adipocytes','Alveolar type 2 cells','Ascending loop of Henle cells','B cells','Basophils','Cardiomyocytes','Chondrocytes','Ciliated cells','Common lymphoid progenitors','Cone cells','Corticotropes','Cycling T cells','Cycling gastric epithelial cell','Cycling intermediate cells','Descending limb of loop of Henle cells','Endocrine cells','Endothelial cells','Enteric neurons','Ependymal cells','Erythroid cells','Fasciculata cells','Follicular cells','Glandular cells','Gonadotropes','Hematopoietic stem and progenitor cells','Inhibitory neurons','Keratinocytes','Lactotropes','Macrophages','Melanocytes','Mesenchymal cells','Monocytes','Mucous cells','Natural killer T cells','Neuroendocrine cells','Neutrophils','Oligodendrocytes','Pancreas ductal cells','Pericytes','Peritubular myoid cells','Platelets','Principal cells','Purkinje cells','Rod cells','Schwann cells','Sertoli cells','Somatotropes','Spermatocytes','Squamous cells','Surface epithelial cells','Thyrotropes','Type II myonuclei'][datum.value/2]","labelAngle":-45,"labelAlign":"right","labelBaseline":"middle","labelFontSize":20.3,"labelColor":"black","labelOverlap":false,"labelLimit":1000,"labelBound":false,"labelFlush":false,"labelOffset":-4,"domain":false,"ticks":true,"tickColor":"black","tickSize":7,"tickWidth":1.5,"labelPadding":24,"grid":false,"titleFontSize":25,"titleFontWeight":"bold","titleColor":"black","titleY":341}},"y":{"field":"m","type":"nominal","title":"Module","scale":{"domain":[14,11,6,26,23,9,16,21,5,25,13,24,1,29,3,17,12,20,10,28,7,4,19,18,30,8,15,2,22,27],"paddingInner":0,"paddingOuter":0},"axis":{"labelExpr":"'Module_'+datum.value","labelFontSize":20.3,"labelColor":"black","domain":false,"ticks":true,"tickColor":"black","tickSize":7,"tickWidth":1.5,"labelPadding":11,"labelAngle":0,"grid":false,"titleFontSize":25,"titleFontWeight":"bold","titleColor":"black","titleX":-134,"titleY":532}},"color":{"field":"z","type":"quantitative","scale":{"range":["#053061","#2166ac","#4393c3","#92c5de","#d1e5f0","#f7f7f7","#fddbc7","#f4a582","#d6604d","#b2182b","#67001f"],"domain":[-2,-1.6,-1.2,-0.8,-0.4,0,0.4,0.8,1.2,1.6,2],"clamp":true,"interpolate":"rgb"},"legend":{"orient":"none","legendX":1608,"legendY":105,"gradientLength":842,"gradientThickness":43,"title":"Z-score","titleOrient":"right","titleFontSize":20,"titleFontWeight":"normal","titleColor":"black","titleAnchor":"middle","titlePadding":27,"labelFontSize":20,"labelColor":"black","labelOffset":14,"values":[-2,-1.5,-1,-0.5,0,0.5,1,1.5,2],"format":".1f","gradientStrokeWidth":0,"encode":{"labels":{"update":{"baseline":{"value":"middle"}}},"title":{"update":{"angle":{"value":270}}}}}}}}
